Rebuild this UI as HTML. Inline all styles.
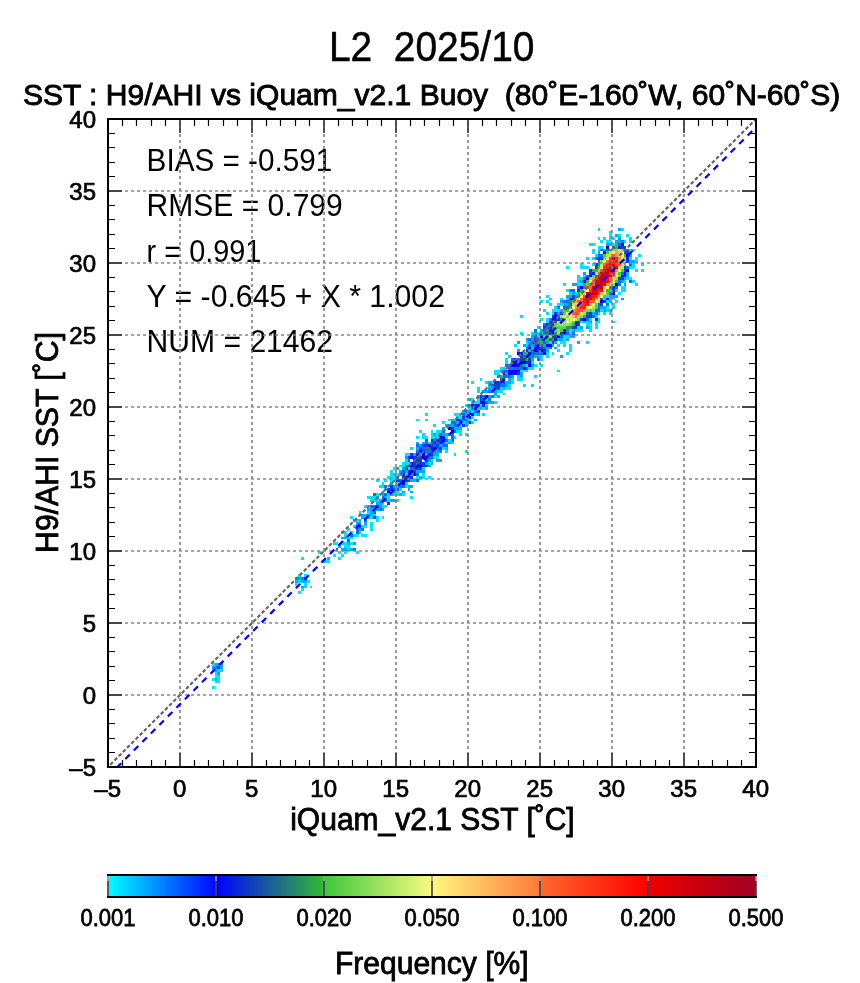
<!DOCTYPE html>
<html><head><meta charset="utf-8"><style>
html,body{margin:0;padding:0;background:#fff;}
svg{display:block;font-family:"Liberation Sans",sans-serif;will-change:transform;} text{white-space:pre;}
</style></head><body>
<svg xml:space="preserve" width="860" height="983" viewBox="0 0 860 983">
<g id="scatter"><g shape-rendering="crispEdges"><rect x="211.68" y="663.32" width="2.88" height="2.88" fill="#00e6ff"/><rect x="214.56" y="663.32" width="2.88" height="2.88" fill="#00a6ff"/><rect x="217.44" y="663.32" width="2.88" height="2.88" fill="#0099ff"/><rect x="220.32" y="663.32" width="2.88" height="2.88" fill="#00b2ff"/><rect x="211.68" y="666.20" width="2.88" height="2.88" fill="#0099ff"/><rect x="214.56" y="666.20" width="2.88" height="2.88" fill="#008cff"/><rect x="217.44" y="666.20" width="2.88" height="2.88" fill="#0040ff"/><rect x="220.32" y="666.20" width="2.88" height="2.88" fill="#00a6ff"/><rect x="211.68" y="669.08" width="2.88" height="2.88" fill="#00d9ff"/><rect x="214.56" y="669.08" width="2.88" height="2.88" fill="#00b2ff"/><rect x="217.44" y="669.08" width="2.88" height="2.88" fill="#00d9ff"/><rect x="220.32" y="669.08" width="2.88" height="2.88" fill="#00d9ff"/><rect x="214.56" y="671.96" width="2.88" height="2.88" fill="#00e6ff"/><rect x="217.44" y="671.96" width="2.88" height="2.88" fill="#0099ff"/><rect x="214.56" y="674.84" width="2.88" height="2.88" fill="#00e6ff"/><rect x="217.44" y="674.84" width="2.88" height="2.88" fill="#00e6ff"/><rect x="211.68" y="677.72" width="2.88" height="2.88" fill="#00e6ff"/><rect x="214.56" y="677.72" width="2.88" height="2.88" fill="#00b2ff"/><rect x="217.44" y="677.72" width="2.88" height="2.88" fill="#00e6ff"/><rect x="214.56" y="680.60" width="2.88" height="2.88" fill="#00e6ff"/><rect x="217.44" y="680.60" width="2.88" height="2.88" fill="#00e6ff"/><rect x="211.68" y="686.36" width="2.88" height="2.88" fill="#00e6ff"/><rect x="300.96" y="556.76" width="2.88" height="2.88" fill="#00e6ff"/><rect x="298.08" y="574.04" width="2.88" height="2.88" fill="#00e6ff"/><rect x="303.84" y="574.04" width="2.88" height="2.88" fill="#00e6ff"/><rect x="295.20" y="576.92" width="2.88" height="2.88" fill="#00a6ff"/><rect x="298.08" y="576.92" width="2.88" height="2.88" fill="#00a6ff"/><rect x="300.96" y="576.92" width="2.88" height="2.88" fill="#008cff"/><rect x="303.84" y="576.92" width="2.88" height="2.88" fill="#0040ff"/><rect x="295.20" y="579.80" width="2.88" height="2.88" fill="#00b2ff"/><rect x="298.08" y="579.80" width="2.88" height="2.88" fill="#00d9ff"/><rect x="300.96" y="579.80" width="2.88" height="2.88" fill="#00a6ff"/><rect x="303.84" y="579.80" width="2.88" height="2.88" fill="#00b2ff"/><rect x="306.72" y="579.80" width="2.88" height="2.88" fill="#00e6ff"/><rect x="295.20" y="582.68" width="2.88" height="2.88" fill="#00e6ff"/><rect x="303.84" y="582.68" width="2.88" height="2.88" fill="#00e6ff"/><rect x="300.96" y="585.56" width="2.88" height="2.88" fill="#00a6ff"/><rect x="303.84" y="585.56" width="2.88" height="2.88" fill="#00ccff"/><rect x="309.60" y="585.56" width="2.88" height="2.88" fill="#00e6ff"/><rect x="300.96" y="588.44" width="2.88" height="2.88" fill="#00e6ff"/><rect x="298.08" y="591.32" width="2.88" height="2.88" fill="#00e6ff"/><rect x="326.88" y="556.76" width="2.88" height="2.88" fill="#00b2ff"/><rect x="324.00" y="559.64" width="2.88" height="2.88" fill="#00e6ff"/><rect x="326.88" y="559.64" width="2.88" height="2.88" fill="#00e6ff"/><rect x="332.64" y="542.36" width="2.88" height="2.88" fill="#00e3ff"/><rect x="335.52" y="548.12" width="2.88" height="2.88" fill="#0071ff"/><rect x="332.64" y="553.88" width="2.88" height="2.88" fill="#00e3ff"/><rect x="338.40" y="556.76" width="2.88" height="2.88" fill="#00e3ff"/><rect x="318.24" y="551.00" width="2.88" height="2.88" fill="#00e3ff"/><rect x="335.52" y="542.36" width="2.88" height="2.88" fill="#00e3ff"/><rect x="341.28" y="553.88" width="2.88" height="2.88" fill="#00e3ff"/><rect x="347.04" y="548.12" width="2.88" height="2.88" fill="#00e3ff"/><rect x="344.16" y="542.36" width="2.88" height="2.88" fill="#00e3ff"/><rect x="338.40" y="551.00" width="2.88" height="2.88" fill="#00e3ff"/><rect x="341.28" y="548.12" width="2.88" height="2.88" fill="#00aaff"/><rect x="347.04" y="536.60" width="2.88" height="2.88" fill="#00e3ff"/><rect x="344.16" y="551.00" width="2.88" height="2.88" fill="#00e3ff"/><rect x="338.40" y="545.24" width="2.88" height="2.88" fill="#00aaff"/><rect x="344.16" y="548.12" width="2.88" height="2.88" fill="#00aaff"/><rect x="341.28" y="542.36" width="2.88" height="2.88" fill="#00e3ff"/><rect x="341.28" y="530.84" width="2.88" height="2.88" fill="#00e3ff"/><rect x="341.28" y="536.60" width="2.88" height="2.88" fill="#00aaff"/><rect x="347.04" y="539.48" width="2.88" height="2.88" fill="#0071ff"/><rect x="349.92" y="542.36" width="2.88" height="2.88" fill="#00e3ff"/><rect x="349.92" y="548.12" width="2.88" height="2.88" fill="#00aaff"/><rect x="344.16" y="536.60" width="2.88" height="2.88" fill="#00aaff"/><rect x="344.16" y="530.84" width="2.88" height="2.88" fill="#00e3ff"/><rect x="344.16" y="545.24" width="2.88" height="2.88" fill="#00e3ff"/><rect x="347.04" y="545.24" width="2.88" height="2.88" fill="#00e3ff"/><rect x="347.04" y="542.36" width="2.88" height="2.88" fill="#00aaff"/><rect x="349.92" y="530.84" width="2.88" height="2.88" fill="#00e3ff"/><rect x="349.92" y="533.72" width="2.88" height="2.88" fill="#0071ff"/><rect x="352.80" y="525.08" width="2.88" height="2.88" fill="#00e3ff"/><rect x="352.80" y="548.12" width="2.88" height="2.88" fill="#0071ff"/><rect x="344.16" y="533.72" width="2.88" height="2.88" fill="#00e3ff"/><rect x="352.80" y="542.36" width="2.88" height="2.88" fill="#00aaff"/><rect x="349.92" y="536.60" width="2.88" height="2.88" fill="#00e3ff"/><rect x="355.68" y="527.96" width="2.88" height="2.88" fill="#0071ff"/><rect x="347.04" y="527.96" width="2.88" height="2.88" fill="#00e3ff"/><rect x="355.68" y="530.84" width="2.88" height="2.88" fill="#0071ff"/><rect x="361.44" y="533.72" width="2.88" height="2.88" fill="#00e3ff"/><rect x="355.68" y="551.00" width="2.88" height="2.88" fill="#00e3ff"/><rect x="358.56" y="530.84" width="2.88" height="2.88" fill="#00e3ff"/><rect x="352.80" y="533.72" width="2.88" height="2.88" fill="#00e3ff"/><rect x="355.68" y="525.08" width="2.88" height="2.88" fill="#0071ff"/><rect x="355.68" y="533.72" width="2.88" height="2.88" fill="#00e3ff"/><rect x="352.80" y="519.32" width="2.88" height="2.88" fill="#00aaff"/><rect x="358.56" y="527.96" width="2.88" height="2.88" fill="#00aaff"/><rect x="358.56" y="525.08" width="2.88" height="2.88" fill="#0039ff"/><rect x="361.44" y="527.96" width="2.88" height="2.88" fill="#0071ff"/><rect x="361.44" y="516.44" width="2.88" height="2.88" fill="#00aaff"/><rect x="358.56" y="519.32" width="2.88" height="2.88" fill="#00aaff"/><rect x="364.32" y="533.72" width="2.88" height="2.88" fill="#00e3ff"/><rect x="361.44" y="513.56" width="2.88" height="2.88" fill="#00aaff"/><rect x="355.68" y="519.32" width="2.88" height="2.88" fill="#00e3ff"/><rect x="358.56" y="513.56" width="2.88" height="2.88" fill="#00aaff"/><rect x="364.32" y="519.32" width="2.88" height="2.88" fill="#0071ff"/><rect x="358.56" y="522.20" width="2.88" height="2.88" fill="#00aaff"/><rect x="358.56" y="510.68" width="2.88" height="2.88" fill="#00e3ff"/><rect x="355.68" y="522.20" width="2.88" height="2.88" fill="#00aaff"/><rect x="364.32" y="525.08" width="2.88" height="2.88" fill="#00e3ff"/><rect x="367.20" y="516.44" width="2.88" height="2.88" fill="#00aaff"/><rect x="370.08" y="516.44" width="2.88" height="2.88" fill="#00e3ff"/><rect x="364.32" y="522.20" width="2.88" height="2.88" fill="#00aaff"/><rect x="370.08" y="510.68" width="2.88" height="2.88" fill="#00aaff"/><rect x="349.92" y="516.44" width="2.88" height="2.88" fill="#00e3ff"/><rect x="364.32" y="516.44" width="2.88" height="2.88" fill="#00e3ff"/><rect x="370.08" y="525.08" width="2.88" height="2.88" fill="#00e3ff"/><rect x="364.32" y="513.56" width="2.88" height="2.88" fill="#00aaff"/><rect x="367.20" y="513.56" width="2.88" height="2.88" fill="#00aaff"/><rect x="370.08" y="522.20" width="2.88" height="2.88" fill="#00e3ff"/><rect x="375.84" y="499.16" width="2.88" height="2.88" fill="#00e3ff"/><rect x="372.96" y="513.56" width="2.88" height="2.88" fill="#00e3ff"/><rect x="370.08" y="527.96" width="2.88" height="2.88" fill="#00e3ff"/><rect x="361.44" y="525.08" width="2.88" height="2.88" fill="#00e3ff"/><rect x="370.08" y="513.56" width="2.88" height="2.88" fill="#00aaff"/><rect x="367.20" y="507.80" width="2.88" height="2.88" fill="#00aaff"/><rect x="372.96" y="510.68" width="2.88" height="2.88" fill="#0071ff"/><rect x="372.96" y="516.44" width="2.88" height="2.88" fill="#0039ff"/><rect x="367.20" y="510.68" width="2.88" height="2.88" fill="#00e3ff"/><rect x="370.08" y="504.92" width="2.88" height="2.88" fill="#0071ff"/><rect x="372.96" y="507.80" width="2.88" height="2.88" fill="#00e3ff"/><rect x="367.20" y="496.28" width="2.88" height="2.88" fill="#00e3ff"/><rect x="375.84" y="496.28" width="2.88" height="2.88" fill="#00aaff"/><rect x="372.96" y="504.92" width="2.88" height="2.88" fill="#0071ff"/><rect x="375.84" y="504.92" width="2.88" height="2.88" fill="#0039ff"/><rect x="375.84" y="519.32" width="2.88" height="2.88" fill="#00e3ff"/><rect x="378.72" y="507.80" width="2.88" height="2.88" fill="#0071ff"/><rect x="378.72" y="504.92" width="2.88" height="2.88" fill="#00aaff"/><rect x="372.96" y="499.16" width="2.88" height="2.88" fill="#00e3ff"/><rect x="364.32" y="504.92" width="2.88" height="2.88" fill="#00e3ff"/><rect x="372.96" y="493.40" width="2.88" height="2.88" fill="#0071ff"/><rect x="381.60" y="507.80" width="2.88" height="2.88" fill="#00aaff"/><rect x="372.96" y="496.28" width="2.88" height="2.88" fill="#00e3ff"/><rect x="375.84" y="502.04" width="2.88" height="2.88" fill="#00aaff"/><rect x="370.08" y="499.16" width="2.88" height="2.88" fill="#00e3ff"/><rect x="378.72" y="502.04" width="2.88" height="2.88" fill="#00aaff"/><rect x="378.72" y="499.16" width="2.88" height="2.88" fill="#00aaff"/><rect x="370.08" y="507.80" width="2.88" height="2.88" fill="#00aaff"/><rect x="375.84" y="507.80" width="2.88" height="2.88" fill="#00aaff"/><rect x="375.84" y="516.44" width="2.88" height="2.88" fill="#00e3ff"/><rect x="381.60" y="504.92" width="2.88" height="2.88" fill="#00e3ff"/><rect x="375.84" y="479.00" width="2.88" height="2.88" fill="#00e3ff"/><rect x="370.08" y="496.28" width="2.88" height="2.88" fill="#00e3ff"/><rect x="381.60" y="493.40" width="2.88" height="2.88" fill="#00aaff"/><rect x="381.60" y="516.44" width="2.88" height="2.88" fill="#00e3ff"/><rect x="384.48" y="493.40" width="2.88" height="2.88" fill="#0071ff"/><rect x="381.60" y="499.16" width="2.88" height="2.88" fill="#00aaff"/><rect x="384.48" y="496.28" width="2.88" height="2.88" fill="#00aaff"/><rect x="393.12" y="499.16" width="2.88" height="2.88" fill="#00aaff"/><rect x="381.60" y="496.28" width="2.88" height="2.88" fill="#0071ff"/><rect x="381.60" y="490.52" width="2.88" height="2.88" fill="#00aaff"/><rect x="387.36" y="502.04" width="2.88" height="2.88" fill="#0039ff"/><rect x="387.36" y="487.64" width="2.88" height="2.88" fill="#0039ff"/><rect x="384.48" y="504.92" width="2.88" height="2.88" fill="#00e3ff"/><rect x="387.36" y="490.52" width="2.88" height="2.88" fill="#0000ff"/><rect x="384.48" y="499.16" width="2.88" height="2.88" fill="#0071ff"/><rect x="375.84" y="493.40" width="2.88" height="2.88" fill="#00e3ff"/><rect x="381.60" y="502.04" width="2.88" height="2.88" fill="#00e3ff"/><rect x="381.60" y="481.88" width="2.88" height="2.88" fill="#00e3ff"/><rect x="384.48" y="487.64" width="2.88" height="2.88" fill="#00e3ff"/><rect x="387.36" y="499.16" width="2.88" height="2.88" fill="#00e3ff"/><rect x="393.12" y="490.52" width="2.88" height="2.88" fill="#00aaff"/><rect x="381.60" y="484.76" width="2.88" height="2.88" fill="#00e3ff"/><rect x="384.48" y="484.76" width="2.88" height="2.88" fill="#0071ff"/><rect x="396.00" y="499.16" width="2.88" height="2.88" fill="#00e3ff"/><rect x="390.24" y="499.16" width="2.88" height="2.88" fill="#00aaff"/><rect x="401.76" y="479.00" width="2.88" height="2.88" fill="#0000ff"/><rect x="390.24" y="484.76" width="2.88" height="2.88" fill="#0039ff"/><rect x="378.72" y="484.76" width="2.88" height="2.88" fill="#00e3ff"/><rect x="390.24" y="487.64" width="2.88" height="2.88" fill="#0039ff"/><rect x="393.12" y="493.40" width="2.88" height="2.88" fill="#00e3ff"/><rect x="390.24" y="481.88" width="2.88" height="2.88" fill="#00aaff"/><rect x="410.40" y="496.28" width="2.88" height="2.88" fill="#00e3ff"/><rect x="387.36" y="493.40" width="2.88" height="2.88" fill="#00e3ff"/><rect x="390.24" y="493.40" width="2.88" height="2.88" fill="#00aaff"/><rect x="393.12" y="484.76" width="2.88" height="2.88" fill="#00aaff"/><rect x="390.24" y="490.52" width="2.88" height="2.88" fill="#00aaff"/><rect x="384.48" y="479.00" width="2.88" height="2.88" fill="#00e3ff"/><rect x="393.12" y="487.64" width="2.88" height="2.88" fill="#0071ff"/><rect x="396.00" y="493.40" width="2.88" height="2.88" fill="#00e3ff"/><rect x="387.36" y="496.28" width="2.88" height="2.88" fill="#00e3ff"/><rect x="396.00" y="481.88" width="2.88" height="2.88" fill="#00e3ff"/><rect x="393.12" y="476.12" width="2.88" height="2.88" fill="#00e3ff"/><rect x="390.24" y="470.36" width="2.88" height="2.88" fill="#00e3ff"/><rect x="398.88" y="481.88" width="2.88" height="2.88" fill="#0071ff"/><rect x="398.88" y="479.00" width="2.88" height="2.88" fill="#0071ff"/><rect x="396.00" y="473.24" width="2.88" height="2.88" fill="#00e3ff"/><rect x="390.24" y="476.12" width="2.88" height="2.88" fill="#00e3ff"/><rect x="398.88" y="484.76" width="2.88" height="2.88" fill="#0071ff"/><rect x="398.88" y="487.64" width="2.88" height="2.88" fill="#00e3ff"/><rect x="401.76" y="476.12" width="2.88" height="2.88" fill="#144bad"/><rect x="396.00" y="479.00" width="2.88" height="2.88" fill="#0039ff"/><rect x="390.24" y="473.24" width="2.88" height="2.88" fill="#00e3ff"/><rect x="398.88" y="493.40" width="2.88" height="2.88" fill="#00aaff"/><rect x="404.64" y="484.76" width="2.88" height="2.88" fill="#00e3ff"/><rect x="401.76" y="493.40" width="2.88" height="2.88" fill="#00e3ff"/><rect x="396.00" y="490.52" width="2.88" height="2.88" fill="#00e3ff"/><rect x="393.12" y="479.00" width="2.88" height="2.88" fill="#00e3ff"/><rect x="390.24" y="479.00" width="2.88" height="2.88" fill="#00e3ff"/><rect x="401.76" y="490.52" width="2.88" height="2.88" fill="#00aaff"/><rect x="387.36" y="476.12" width="2.88" height="2.88" fill="#00e3ff"/><rect x="407.52" y="473.24" width="2.88" height="2.88" fill="#0000ff"/><rect x="393.12" y="473.24" width="2.88" height="2.88" fill="#00aaff"/><rect x="396.00" y="487.64" width="2.88" height="2.88" fill="#0071ff"/><rect x="396.00" y="484.76" width="2.88" height="2.88" fill="#00aaff"/><rect x="404.64" y="476.12" width="2.88" height="2.88" fill="#0a25d6"/><rect x="396.00" y="467.48" width="2.88" height="2.88" fill="#00aaff"/><rect x="393.12" y="467.48" width="2.88" height="2.88" fill="#00e3ff"/><rect x="398.88" y="473.24" width="2.88" height="2.88" fill="#00aaff"/><rect x="401.76" y="461.72" width="2.88" height="2.88" fill="#00e3ff"/><rect x="404.64" y="479.00" width="2.88" height="2.88" fill="#0039ff"/><rect x="401.76" y="473.24" width="2.88" height="2.88" fill="#0039ff"/><rect x="401.76" y="481.88" width="2.88" height="2.88" fill="#0000ff"/><rect x="410.40" y="484.76" width="2.88" height="2.88" fill="#00aaff"/><rect x="407.52" y="484.76" width="2.88" height="2.88" fill="#00aaff"/><rect x="396.00" y="476.12" width="2.88" height="2.88" fill="#00aaff"/><rect x="407.52" y="479.00" width="2.88" height="2.88" fill="#144bad"/><rect x="407.52" y="464.60" width="2.88" height="2.88" fill="#144bad"/><rect x="404.64" y="461.72" width="2.88" height="2.88" fill="#00e3ff"/><rect x="401.76" y="484.76" width="2.88" height="2.88" fill="#0071ff"/><rect x="401.76" y="467.48" width="2.88" height="2.88" fill="#00aaff"/><rect x="398.88" y="470.36" width="2.88" height="2.88" fill="#00aaff"/><rect x="410.40" y="464.60" width="2.88" height="2.88" fill="#0000ff"/><rect x="401.76" y="470.36" width="2.88" height="2.88" fill="#0071ff"/><rect x="410.40" y="490.52" width="2.88" height="2.88" fill="#00aaff"/><rect x="404.64" y="467.48" width="2.88" height="2.88" fill="#0000ff"/><rect x="404.64" y="455.96" width="2.88" height="2.88" fill="#00aaff"/><rect x="398.88" y="464.60" width="2.88" height="2.88" fill="#00e3ff"/><rect x="410.40" y="447.32" width="2.88" height="2.88" fill="#00e3ff"/><rect x="410.40" y="476.12" width="2.88" height="2.88" fill="#0039ff"/><rect x="404.64" y="464.60" width="2.88" height="2.88" fill="#0071ff"/><rect x="407.52" y="470.36" width="2.88" height="2.88" fill="#0a25d6"/><rect x="413.28" y="467.48" width="2.88" height="2.88" fill="#1f7085"/><rect x="407.52" y="487.64" width="2.88" height="2.88" fill="#00aaff"/><rect x="407.52" y="476.12" width="2.88" height="2.88" fill="#0039ff"/><rect x="410.40" y="470.36" width="2.88" height="2.88" fill="#0000ff"/><rect x="410.40" y="479.00" width="2.88" height="2.88" fill="#00aaff"/><rect x="407.52" y="458.84" width="2.88" height="2.88" fill="#1f7085"/><rect x="416.16" y="455.96" width="2.88" height="2.88" fill="#144bad"/><rect x="413.28" y="473.24" width="2.88" height="2.88" fill="#0000ff"/><rect x="416.16" y="461.72" width="2.88" height="2.88" fill="#1f7085"/><rect x="413.28" y="470.36" width="2.88" height="2.88" fill="#144bad"/><rect x="416.16" y="476.12" width="2.88" height="2.88" fill="#00e3ff"/><rect x="404.64" y="473.24" width="2.88" height="2.88" fill="#00e3ff"/><rect x="404.64" y="470.36" width="2.88" height="2.88" fill="#00aaff"/><rect x="401.76" y="464.60" width="2.88" height="2.88" fill="#00e3ff"/><rect x="410.40" y="455.96" width="2.88" height="2.88" fill="#0000ff"/><rect x="410.40" y="461.72" width="2.88" height="2.88" fill="#0000ff"/><rect x="407.52" y="455.96" width="2.88" height="2.88" fill="#0039ff"/><rect x="410.40" y="467.48" width="2.88" height="2.88" fill="#1f7085"/><rect x="404.64" y="458.84" width="2.88" height="2.88" fill="#00e3ff"/><rect x="416.16" y="473.24" width="2.88" height="2.88" fill="#0071ff"/><rect x="416.16" y="467.48" width="2.88" height="2.88" fill="#144bad"/><rect x="404.64" y="481.88" width="2.88" height="2.88" fill="#00e3ff"/><rect x="407.52" y="467.48" width="2.88" height="2.88" fill="#00e3ff"/><rect x="416.16" y="479.00" width="2.88" height="2.88" fill="#0071ff"/><rect x="407.52" y="453.08" width="2.88" height="2.88" fill="#00e3ff"/><rect x="416.16" y="458.84" width="2.88" height="2.88" fill="#0039ff"/><rect x="413.28" y="479.00" width="2.88" height="2.88" fill="#00aaff"/><rect x="407.52" y="461.72" width="2.88" height="2.88" fill="#00e3ff"/><rect x="410.40" y="453.08" width="2.88" height="2.88" fill="#0039ff"/><rect x="416.16" y="470.36" width="2.88" height="2.88" fill="#00aaff"/><rect x="413.28" y="461.72" width="2.88" height="2.88" fill="#0039ff"/><rect x="413.28" y="458.84" width="2.88" height="2.88" fill="#0a25d6"/><rect x="410.40" y="473.24" width="2.88" height="2.88" fill="#00aaff"/><rect x="419.04" y="430.04" width="2.88" height="2.88" fill="#00e3ff"/><rect x="419.04" y="464.60" width="2.88" height="2.88" fill="#0000ff"/><rect x="404.64" y="453.08" width="2.88" height="2.88" fill="#00e3ff"/><rect x="421.92" y="450.20" width="2.88" height="2.88" fill="#0a25d6"/><rect x="416.16" y="418.52" width="2.88" height="2.88" fill="#00e3ff"/><rect x="416.16" y="464.60" width="2.88" height="2.88" fill="#0a25d6"/><rect x="413.28" y="455.96" width="2.88" height="2.88" fill="#0039ff"/><rect x="416.16" y="453.08" width="2.88" height="2.88" fill="#0a25d6"/><rect x="419.04" y="470.36" width="2.88" height="2.88" fill="#00aaff"/><rect x="413.28" y="453.08" width="2.88" height="2.88" fill="#00aaff"/><rect x="413.28" y="464.60" width="2.88" height="2.88" fill="#0039ff"/><rect x="424.80" y="447.32" width="2.88" height="2.88" fill="#1f7085"/><rect x="421.92" y="467.48" width="2.88" height="2.88" fill="#00e3ff"/><rect x="419.04" y="461.72" width="2.88" height="2.88" fill="#0039ff"/><rect x="419.04" y="455.96" width="2.88" height="2.88" fill="#144bad"/><rect x="416.16" y="444.44" width="2.88" height="2.88" fill="#0071ff"/><rect x="421.92" y="470.36" width="2.88" height="2.88" fill="#00aaff"/><rect x="424.80" y="453.08" width="2.88" height="2.88" fill="#33bb33"/><rect x="419.04" y="467.48" width="2.88" height="2.88" fill="#0039ff"/><rect x="421.92" y="455.96" width="2.88" height="2.88" fill="#0000ff"/><rect x="421.92" y="453.08" width="2.88" height="2.88" fill="#0000ff"/><rect x="421.92" y="441.56" width="2.88" height="2.88" fill="#00aaff"/><rect x="419.04" y="476.12" width="2.88" height="2.88" fill="#00aaff"/><rect x="419.04" y="458.84" width="2.88" height="2.88" fill="#0039ff"/><rect x="421.92" y="464.60" width="2.88" height="2.88" fill="#0039ff"/><rect x="416.16" y="435.80" width="2.88" height="2.88" fill="#00e3ff"/><rect x="421.92" y="444.44" width="2.88" height="2.88" fill="#0039ff"/><rect x="421.92" y="476.12" width="2.88" height="2.88" fill="#00e3ff"/><rect x="421.92" y="461.72" width="2.88" height="2.88" fill="#0039ff"/><rect x="419.04" y="453.08" width="2.88" height="2.88" fill="#00aaff"/><rect x="416.16" y="450.20" width="2.88" height="2.88" fill="#0071ff"/><rect x="419.04" y="447.32" width="2.88" height="2.88" fill="#0039ff"/><rect x="416.16" y="447.32" width="2.88" height="2.88" fill="#00aaff"/><rect x="419.04" y="444.44" width="2.88" height="2.88" fill="#00aaff"/><rect x="424.80" y="450.20" width="2.88" height="2.88" fill="#0071ff"/><rect x="424.80" y="444.44" width="2.88" height="2.88" fill="#0039ff"/><rect x="424.80" y="464.60" width="2.88" height="2.88" fill="#0039ff"/><rect x="424.80" y="455.96" width="2.88" height="2.88" fill="#144bad"/><rect x="419.04" y="450.20" width="2.88" height="2.88" fill="#0000ff"/><rect x="424.80" y="458.84" width="2.88" height="2.88" fill="#0039ff"/><rect x="424.80" y="461.72" width="2.88" height="2.88" fill="#00aaff"/><rect x="421.92" y="435.80" width="2.88" height="2.88" fill="#00e3ff"/><rect x="421.92" y="473.24" width="2.88" height="2.88" fill="#00e3ff"/><rect x="421.92" y="432.92" width="2.88" height="2.88" fill="#00e3ff"/><rect x="416.16" y="441.56" width="2.88" height="2.88" fill="#00aaff"/><rect x="427.68" y="464.60" width="2.88" height="2.88" fill="#00aaff"/><rect x="427.68" y="455.96" width="2.88" height="2.88" fill="#0071ff"/><rect x="427.68" y="453.08" width="2.88" height="2.88" fill="#0a25d6"/><rect x="421.92" y="447.32" width="2.88" height="2.88" fill="#0071ff"/><rect x="427.68" y="476.12" width="2.88" height="2.88" fill="#00e3ff"/><rect x="424.80" y="418.52" width="2.88" height="2.88" fill="#00e3ff"/><rect x="424.80" y="438.68" width="2.88" height="2.88" fill="#0071ff"/><rect x="430.56" y="450.20" width="2.88" height="2.88" fill="#144bad"/><rect x="430.56" y="444.44" width="2.88" height="2.88" fill="#0039ff"/><rect x="427.68" y="447.32" width="2.88" height="2.88" fill="#1f7085"/><rect x="424.80" y="435.80" width="2.88" height="2.88" fill="#00e3ff"/><rect x="439.20" y="444.44" width="2.88" height="2.88" fill="#00aaff"/><rect x="427.68" y="444.44" width="2.88" height="2.88" fill="#0000ff"/><rect x="430.56" y="455.96" width="2.88" height="2.88" fill="#0071ff"/><rect x="430.56" y="438.68" width="2.88" height="2.88" fill="#0039ff"/><rect x="430.56" y="453.08" width="2.88" height="2.88" fill="#0039ff"/><rect x="424.80" y="412.76" width="2.88" height="2.88" fill="#00e3ff"/><rect x="430.56" y="447.32" width="2.88" height="2.88" fill="#0a25d6"/><rect x="427.68" y="450.20" width="2.88" height="2.88" fill="#0071ff"/><rect x="433.44" y="438.68" width="2.88" height="2.88" fill="#0071ff"/><rect x="427.68" y="458.84" width="2.88" height="2.88" fill="#00aaff"/><rect x="424.80" y="441.56" width="2.88" height="2.88" fill="#0071ff"/><rect x="433.44" y="450.20" width="2.88" height="2.88" fill="#29965c"/><rect x="433.44" y="455.96" width="2.88" height="2.88" fill="#00e3ff"/><rect x="442.08" y="444.44" width="2.88" height="2.88" fill="#0071ff"/><rect x="430.56" y="432.92" width="2.88" height="2.88" fill="#00e3ff"/><rect x="436.32" y="458.84" width="2.88" height="2.88" fill="#00aaff"/><rect x="427.68" y="441.56" width="2.88" height="2.88" fill="#00e3ff"/><rect x="430.56" y="461.72" width="2.88" height="2.88" fill="#00aaff"/><rect x="436.32" y="435.80" width="2.88" height="2.88" fill="#00e3ff"/><rect x="436.32" y="455.96" width="2.88" height="2.88" fill="#00e3ff"/><rect x="430.56" y="435.80" width="2.88" height="2.88" fill="#00e3ff"/><rect x="430.56" y="458.84" width="2.88" height="2.88" fill="#00e3ff"/><rect x="436.32" y="450.20" width="2.88" height="2.88" fill="#00aaff"/><rect x="439.20" y="458.84" width="2.88" height="2.88" fill="#00aaff"/><rect x="430.56" y="441.56" width="2.88" height="2.88" fill="#0071ff"/><rect x="433.44" y="441.56" width="2.88" height="2.88" fill="#0039ff"/><rect x="427.68" y="461.72" width="2.88" height="2.88" fill="#00e3ff"/><rect x="433.44" y="444.44" width="2.88" height="2.88" fill="#0071ff"/><rect x="436.32" y="453.08" width="2.88" height="2.88" fill="#00aaff"/><rect x="433.44" y="447.32" width="2.88" height="2.88" fill="#0000ff"/><rect x="436.32" y="441.56" width="2.88" height="2.88" fill="#0071ff"/><rect x="436.32" y="430.04" width="2.88" height="2.88" fill="#00e3ff"/><rect x="436.32" y="447.32" width="2.88" height="2.88" fill="#0071ff"/><rect x="436.32" y="444.44" width="2.88" height="2.88" fill="#0039ff"/><rect x="433.44" y="424.28" width="2.88" height="2.88" fill="#00e3ff"/><rect x="433.44" y="453.08" width="2.88" height="2.88" fill="#00aaff"/><rect x="442.08" y="438.68" width="2.88" height="2.88" fill="#0039ff"/><rect x="439.20" y="441.56" width="2.88" height="2.88" fill="#144bad"/><rect x="430.56" y="430.04" width="2.88" height="2.88" fill="#00e3ff"/><rect x="439.20" y="432.92" width="2.88" height="2.88" fill="#1f7085"/><rect x="439.20" y="447.32" width="2.88" height="2.88" fill="#0039ff"/><rect x="439.20" y="438.68" width="2.88" height="2.88" fill="#0039ff"/><rect x="433.44" y="432.92" width="2.88" height="2.88" fill="#00aaff"/><rect x="436.32" y="438.68" width="2.88" height="2.88" fill="#0039ff"/><rect x="433.44" y="435.80" width="2.88" height="2.88" fill="#00e3ff"/><rect x="444.96" y="444.44" width="2.88" height="2.88" fill="#0071ff"/><rect x="442.08" y="430.04" width="2.88" height="2.88" fill="#0071ff"/><rect x="439.20" y="450.20" width="2.88" height="2.88" fill="#0071ff"/><rect x="444.96" y="441.56" width="2.88" height="2.88" fill="#00e3ff"/><rect x="447.84" y="432.92" width="2.88" height="2.88" fill="#0071ff"/><rect x="439.20" y="435.80" width="2.88" height="2.88" fill="#0000ff"/><rect x="442.08" y="435.80" width="2.88" height="2.88" fill="#0a25d6"/><rect x="436.32" y="432.92" width="2.88" height="2.88" fill="#00e3ff"/><rect x="442.08" y="441.56" width="2.88" height="2.88" fill="#0071ff"/><rect x="444.96" y="447.32" width="2.88" height="2.88" fill="#00aaff"/><rect x="439.20" y="430.04" width="2.88" height="2.88" fill="#00e3ff"/><rect x="444.96" y="435.80" width="2.88" height="2.88" fill="#00e3ff"/><rect x="450.72" y="430.04" width="2.88" height="2.88" fill="#0000ff"/><rect x="442.08" y="447.32" width="2.88" height="2.88" fill="#00e3ff"/><rect x="442.08" y="427.16" width="2.88" height="2.88" fill="#00aaff"/><rect x="450.72" y="432.92" width="2.88" height="2.88" fill="#0071ff"/><rect x="442.08" y="432.92" width="2.88" height="2.88" fill="#00aaff"/><rect x="447.84" y="438.68" width="2.88" height="2.88" fill="#00e3ff"/><rect x="453.60" y="453.08" width="2.88" height="2.88" fill="#00e3ff"/><rect x="465.12" y="450.20" width="2.88" height="2.88" fill="#00e3ff"/><rect x="447.84" y="441.56" width="2.88" height="2.88" fill="#00aaff"/><rect x="444.96" y="438.68" width="2.88" height="2.88" fill="#0071ff"/><rect x="450.72" y="438.68" width="2.88" height="2.88" fill="#0071ff"/><rect x="444.96" y="424.28" width="2.88" height="2.88" fill="#00aaff"/><rect x="447.84" y="427.16" width="2.88" height="2.88" fill="#0000ff"/><rect x="442.08" y="421.40" width="2.88" height="2.88" fill="#00e3ff"/><rect x="450.72" y="435.80" width="2.88" height="2.88" fill="#0071ff"/><rect x="444.96" y="432.92" width="2.88" height="2.88" fill="#00aaff"/><rect x="450.72" y="427.16" width="2.88" height="2.88" fill="#144bad"/><rect x="444.96" y="450.20" width="2.88" height="2.88" fill="#00e3ff"/><rect x="450.72" y="441.56" width="2.88" height="2.88" fill="#00e3ff"/><rect x="456.48" y="430.04" width="2.88" height="2.88" fill="#00e3ff"/><rect x="453.60" y="435.80" width="2.88" height="2.88" fill="#00e3ff"/><rect x="453.60" y="430.04" width="2.88" height="2.88" fill="#0071ff"/><rect x="453.60" y="427.16" width="2.88" height="2.88" fill="#00aaff"/><rect x="456.48" y="424.28" width="2.88" height="2.88" fill="#0071ff"/><rect x="447.84" y="424.28" width="2.88" height="2.88" fill="#00aaff"/><rect x="450.72" y="421.40" width="2.88" height="2.88" fill="#0071ff"/><rect x="459.36" y="430.04" width="2.88" height="2.88" fill="#00e3ff"/><rect x="459.36" y="427.16" width="2.88" height="2.88" fill="#00aaff"/><rect x="453.60" y="424.28" width="2.88" height="2.88" fill="#0071ff"/><rect x="453.60" y="421.40" width="2.88" height="2.88" fill="#0071ff"/><rect x="450.72" y="418.52" width="2.88" height="2.88" fill="#00aaff"/><rect x="450.72" y="424.28" width="2.88" height="2.88" fill="#00aaff"/><rect x="462.24" y="424.28" width="2.88" height="2.88" fill="#0039ff"/><rect x="459.36" y="418.52" width="2.88" height="2.88" fill="#0071ff"/><rect x="447.84" y="418.52" width="2.88" height="2.88" fill="#00e3ff"/><rect x="465.12" y="432.92" width="2.88" height="2.88" fill="#00e3ff"/><rect x="453.60" y="418.52" width="2.88" height="2.88" fill="#00e3ff"/><rect x="459.36" y="421.40" width="2.88" height="2.88" fill="#0000ff"/><rect x="456.48" y="421.40" width="2.88" height="2.88" fill="#00aaff"/><rect x="462.24" y="415.64" width="2.88" height="2.88" fill="#0039ff"/><rect x="453.60" y="412.76" width="2.88" height="2.88" fill="#00e3ff"/><rect x="459.36" y="415.64" width="2.88" height="2.88" fill="#00e3ff"/><rect x="456.48" y="427.16" width="2.88" height="2.88" fill="#00aaff"/><rect x="459.36" y="432.92" width="2.88" height="2.88" fill="#00e3ff"/><rect x="465.12" y="424.28" width="2.88" height="2.88" fill="#00aaff"/><rect x="456.48" y="418.52" width="2.88" height="2.88" fill="#0039ff"/><rect x="462.24" y="421.40" width="2.88" height="2.88" fill="#00e3ff"/><rect x="459.36" y="424.28" width="2.88" height="2.88" fill="#00e3ff"/><rect x="462.24" y="418.52" width="2.88" height="2.88" fill="#0071ff"/><rect x="468.00" y="418.52" width="2.88" height="2.88" fill="#00e3ff"/><rect x="465.12" y="418.52" width="2.88" height="2.88" fill="#0071ff"/><rect x="462.24" y="412.76" width="2.88" height="2.88" fill="#0071ff"/><rect x="456.48" y="415.64" width="2.88" height="2.88" fill="#00e3ff"/><rect x="468.00" y="421.40" width="2.88" height="2.88" fill="#0039ff"/><rect x="465.12" y="421.40" width="2.88" height="2.88" fill="#00aaff"/><rect x="468.00" y="409.88" width="2.88" height="2.88" fill="#00aaff"/><rect x="470.88" y="412.76" width="2.88" height="2.88" fill="#0000ff"/><rect x="470.88" y="421.40" width="2.88" height="2.88" fill="#00e3ff"/><rect x="465.12" y="412.76" width="2.88" height="2.88" fill="#00aaff"/><rect x="468.00" y="415.64" width="2.88" height="2.88" fill="#0a25d6"/><rect x="473.76" y="418.52" width="2.88" height="2.88" fill="#00aaff"/><rect x="462.24" y="409.88" width="2.88" height="2.88" fill="#00aaff"/><rect x="473.76" y="407.00" width="2.88" height="2.88" fill="#0039ff"/><rect x="465.12" y="409.88" width="2.88" height="2.88" fill="#0071ff"/><rect x="470.88" y="404.12" width="2.88" height="2.88" fill="#0a25d6"/><rect x="468.00" y="412.76" width="2.88" height="2.88" fill="#00e3ff"/><rect x="468.00" y="398.36" width="2.88" height="2.88" fill="#00aaff"/><rect x="456.48" y="412.76" width="2.88" height="2.88" fill="#00e3ff"/><rect x="465.12" y="404.12" width="2.88" height="2.88" fill="#00e3ff"/><rect x="470.88" y="409.88" width="2.88" height="2.88" fill="#00e3ff"/><rect x="473.76" y="404.12" width="2.88" height="2.88" fill="#0039ff"/><rect x="476.64" y="404.12" width="2.88" height="2.88" fill="#0071ff"/><rect x="470.88" y="407.00" width="2.88" height="2.88" fill="#0071ff"/><rect x="468.00" y="407.00" width="2.88" height="2.88" fill="#00e3ff"/><rect x="476.64" y="407.00" width="2.88" height="2.88" fill="#00e3ff"/><rect x="470.88" y="415.64" width="2.88" height="2.88" fill="#00e3ff"/><rect x="468.00" y="404.12" width="2.88" height="2.88" fill="#00e3ff"/><rect x="476.64" y="409.88" width="2.88" height="2.88" fill="#0039ff"/><rect x="465.12" y="415.64" width="2.88" height="2.88" fill="#00e3ff"/><rect x="470.88" y="401.24" width="2.88" height="2.88" fill="#00e3ff"/><rect x="479.52" y="407.00" width="2.88" height="2.88" fill="#00aaff"/><rect x="473.76" y="409.88" width="2.88" height="2.88" fill="#0071ff"/><rect x="473.76" y="412.76" width="2.88" height="2.88" fill="#00e3ff"/><rect x="476.64" y="412.76" width="2.88" height="2.88" fill="#00aaff"/><rect x="482.40" y="401.24" width="2.88" height="2.88" fill="#0000ff"/><rect x="479.52" y="404.12" width="2.88" height="2.88" fill="#00e3ff"/><rect x="476.64" y="395.48" width="2.88" height="2.88" fill="#00aaff"/><rect x="479.52" y="401.24" width="2.88" height="2.88" fill="#0000ff"/><rect x="488.16" y="389.72" width="2.88" height="2.88" fill="#0071ff"/><rect x="473.76" y="401.24" width="2.88" height="2.88" fill="#00e3ff"/><rect x="479.52" y="398.36" width="2.88" height="2.88" fill="#0039ff"/><rect x="470.88" y="398.36" width="2.88" height="2.88" fill="#00e3ff"/><rect x="482.40" y="404.12" width="2.88" height="2.88" fill="#0039ff"/><rect x="488.16" y="398.36" width="2.88" height="2.88" fill="#0071ff"/><rect x="476.64" y="398.36" width="2.88" height="2.88" fill="#00e3ff"/><rect x="482.40" y="407.00" width="2.88" height="2.88" fill="#00e3ff"/><rect x="485.28" y="404.12" width="2.88" height="2.88" fill="#00e3ff"/><rect x="482.40" y="389.72" width="2.88" height="2.88" fill="#00aaff"/><rect x="479.52" y="395.48" width="2.88" height="2.88" fill="#0039ff"/><rect x="485.28" y="395.48" width="2.88" height="2.88" fill="#0a25d6"/><rect x="476.64" y="401.24" width="2.88" height="2.88" fill="#00e3ff"/><rect x="488.16" y="401.24" width="2.88" height="2.88" fill="#00aaff"/><rect x="485.28" y="401.24" width="2.88" height="2.88" fill="#0071ff"/><rect x="482.40" y="398.36" width="2.88" height="2.88" fill="#0071ff"/><rect x="485.28" y="398.36" width="2.88" height="2.88" fill="#00e3ff"/><rect x="482.40" y="395.48" width="2.88" height="2.88" fill="#0071ff"/><rect x="482.40" y="412.76" width="2.88" height="2.88" fill="#00e3ff"/><rect x="485.28" y="407.00" width="2.88" height="2.88" fill="#00aaff"/><rect x="491.04" y="401.24" width="2.88" height="2.88" fill="#00aaff"/><rect x="488.16" y="395.48" width="2.88" height="2.88" fill="#00aaff"/><rect x="479.52" y="378.20" width="2.88" height="2.88" fill="#00e3ff"/><rect x="491.04" y="395.48" width="2.88" height="2.88" fill="#0071ff"/><rect x="493.92" y="389.72" width="2.88" height="2.88" fill="#00aaff"/><rect x="476.64" y="389.72" width="2.88" height="2.88" fill="#00e3ff"/><rect x="476.64" y="386.84" width="2.88" height="2.88" fill="#00e3ff"/><rect x="470.88" y="381.08" width="2.88" height="2.88" fill="#00e3ff"/><rect x="493.92" y="395.48" width="2.88" height="2.88" fill="#00e3ff"/><rect x="493.92" y="401.24" width="2.88" height="2.88" fill="#00e3ff"/><rect x="485.28" y="389.72" width="2.88" height="2.88" fill="#00aaff"/><rect x="485.28" y="381.08" width="2.88" height="2.88" fill="#00e3ff"/><rect x="491.04" y="386.84" width="2.88" height="2.88" fill="#00aaff"/><rect x="488.16" y="386.84" width="2.88" height="2.88" fill="#00aaff"/><rect x="493.92" y="386.84" width="2.88" height="2.88" fill="#00aaff"/><rect x="496.80" y="395.48" width="2.88" height="2.88" fill="#00aaff"/><rect x="491.04" y="381.08" width="2.88" height="2.88" fill="#00e3ff"/><rect x="491.04" y="389.72" width="2.88" height="2.88" fill="#0071ff"/><rect x="493.92" y="381.08" width="2.88" height="2.88" fill="#0a25d6"/><rect x="499.68" y="389.72" width="2.88" height="2.88" fill="#00e3ff"/><rect x="493.92" y="383.96" width="2.88" height="2.88" fill="#144bad"/><rect x="493.92" y="392.60" width="2.88" height="2.88" fill="#00aaff"/><rect x="488.16" y="381.08" width="2.88" height="2.88" fill="#00aaff"/><rect x="496.80" y="386.84" width="2.88" height="2.88" fill="#144bad"/><rect x="496.80" y="383.96" width="2.88" height="2.88" fill="#0039ff"/><rect x="496.80" y="389.72" width="2.88" height="2.88" fill="#00e3ff"/><rect x="491.04" y="383.96" width="2.88" height="2.88" fill="#0071ff"/><rect x="488.16" y="383.96" width="2.88" height="2.88" fill="#00e3ff"/><rect x="499.68" y="383.96" width="2.88" height="2.88" fill="#0071ff"/><rect x="496.80" y="381.08" width="2.88" height="2.88" fill="#0039ff"/><rect x="499.68" y="378.20" width="2.88" height="2.88" fill="#1f7085"/><rect x="502.56" y="386.84" width="2.88" height="2.88" fill="#00aaff"/><rect x="505.44" y="381.08" width="2.88" height="2.88" fill="#00aaff"/><rect x="502.56" y="381.08" width="2.88" height="2.88" fill="#144bad"/><rect x="502.56" y="383.96" width="2.88" height="2.88" fill="#0071ff"/><rect x="499.68" y="386.84" width="2.88" height="2.88" fill="#00e3ff"/><rect x="508.32" y="386.84" width="2.88" height="2.88" fill="#00e3ff"/><rect x="496.80" y="369.56" width="2.88" height="2.88" fill="#00e3ff"/><rect x="502.56" y="375.32" width="2.88" height="2.88" fill="#1f7085"/><rect x="508.32" y="372.44" width="2.88" height="2.88" fill="#0a25d6"/><rect x="499.68" y="381.08" width="2.88" height="2.88" fill="#00aaff"/><rect x="493.92" y="369.56" width="2.88" height="2.88" fill="#00e3ff"/><rect x="499.68" y="375.32" width="2.88" height="2.88" fill="#00aaff"/><rect x="499.68" y="366.68" width="2.88" height="2.88" fill="#00e3ff"/><rect x="505.44" y="383.96" width="2.88" height="2.88" fill="#00aaff"/><rect x="508.32" y="378.20" width="2.88" height="2.88" fill="#00aaff"/><rect x="496.80" y="375.32" width="2.88" height="2.88" fill="#00e3ff"/><rect x="505.44" y="372.44" width="2.88" height="2.88" fill="#00aaff"/><rect x="496.80" y="372.44" width="2.88" height="2.88" fill="#00e3ff"/><rect x="493.92" y="372.44" width="2.88" height="2.88" fill="#00e3ff"/><rect x="502.56" y="392.60" width="2.88" height="2.88" fill="#00e3ff"/><rect x="502.56" y="378.20" width="2.88" height="2.88" fill="#0071ff"/><rect x="502.56" y="369.56" width="2.88" height="2.88" fill="#0039ff"/><rect x="505.44" y="375.32" width="2.88" height="2.88" fill="#0071ff"/><rect x="499.68" y="369.56" width="2.88" height="2.88" fill="#00aaff"/><rect x="505.44" y="386.84" width="2.88" height="2.88" fill="#00e3ff"/><rect x="502.56" y="372.44" width="2.88" height="2.88" fill="#0039ff"/><rect x="508.32" y="381.08" width="2.88" height="2.88" fill="#00aaff"/><rect x="511.20" y="372.44" width="2.88" height="2.88" fill="#0a25d6"/><rect x="508.32" y="369.56" width="2.88" height="2.88" fill="#0000ff"/><rect x="514.08" y="372.44" width="2.88" height="2.88" fill="#0000ff"/><rect x="508.32" y="366.68" width="2.88" height="2.88" fill="#0071ff"/><rect x="505.44" y="369.56" width="2.88" height="2.88" fill="#0071ff"/><rect x="508.32" y="375.32" width="2.88" height="2.88" fill="#0071ff"/><rect x="511.20" y="378.20" width="2.88" height="2.88" fill="#00e3ff"/><rect x="508.32" y="383.96" width="2.88" height="2.88" fill="#00e3ff"/><rect x="502.56" y="366.68" width="2.88" height="2.88" fill="#00aaff"/><rect x="511.20" y="360.92" width="2.88" height="2.88" fill="#0039ff"/><rect x="511.20" y="381.08" width="2.88" height="2.88" fill="#00e3ff"/><rect x="511.20" y="369.56" width="2.88" height="2.88" fill="#0000ff"/><rect x="516.96" y="369.56" width="2.88" height="2.88" fill="#0000ff"/><rect x="511.20" y="375.32" width="2.88" height="2.88" fill="#00aaff"/><rect x="505.44" y="363.80" width="2.88" height="2.88" fill="#0071ff"/><rect x="519.84" y="378.20" width="2.88" height="2.88" fill="#00e3ff"/><rect x="505.44" y="352.28" width="2.88" height="2.88" fill="#00e3ff"/><rect x="516.96" y="363.80" width="2.88" height="2.88" fill="#144bad"/><rect x="514.08" y="360.92" width="2.88" height="2.88" fill="#0000ff"/><rect x="508.32" y="363.80" width="2.88" height="2.88" fill="#0071ff"/><rect x="522.72" y="383.96" width="2.88" height="2.88" fill="#00e3ff"/><rect x="519.84" y="366.68" width="2.88" height="2.88" fill="#0071ff"/><rect x="511.20" y="358.04" width="2.88" height="2.88" fill="#0071ff"/><rect x="514.08" y="366.68" width="2.88" height="2.88" fill="#0071ff"/><rect x="516.96" y="375.32" width="2.88" height="2.88" fill="#00e3ff"/><rect x="511.20" y="363.80" width="2.88" height="2.88" fill="#0000ff"/><rect x="505.44" y="360.92" width="2.88" height="2.88" fill="#00e3ff"/><rect x="516.96" y="372.44" width="2.88" height="2.88" fill="#0039ff"/><rect x="519.84" y="375.32" width="2.88" height="2.88" fill="#00aaff"/><rect x="511.20" y="366.68" width="2.88" height="2.88" fill="#0071ff"/><rect x="514.08" y="363.80" width="2.88" height="2.88" fill="#0000ff"/><rect x="516.96" y="366.68" width="2.88" height="2.88" fill="#0071ff"/><rect x="514.08" y="369.56" width="2.88" height="2.88" fill="#0000ff"/><rect x="519.84" y="360.92" width="2.88" height="2.88" fill="#0000ff"/><rect x="519.84" y="372.44" width="2.88" height="2.88" fill="#00aaff"/><rect x="516.96" y="352.28" width="2.88" height="2.88" fill="#0000ff"/><rect x="514.08" y="358.04" width="2.88" height="2.88" fill="#0000ff"/><rect x="516.96" y="378.20" width="2.88" height="2.88" fill="#00e3ff"/><rect x="519.84" y="358.04" width="2.88" height="2.88" fill="#144bad"/><rect x="516.96" y="360.92" width="2.88" height="2.88" fill="#29965c"/><rect x="505.44" y="358.04" width="2.88" height="2.88" fill="#00e3ff"/><rect x="508.32" y="355.16" width="2.88" height="2.88" fill="#00e3ff"/><rect x="522.72" y="366.68" width="2.88" height="2.88" fill="#0000ff"/><rect x="525.60" y="366.68" width="2.88" height="2.88" fill="#0071ff"/><rect x="519.84" y="355.16" width="2.88" height="2.88" fill="#144bad"/><rect x="522.72" y="369.56" width="2.88" height="2.88" fill="#00e3ff"/><rect x="519.84" y="363.80" width="2.88" height="2.88" fill="#1f7085"/><rect x="519.84" y="369.56" width="2.88" height="2.88" fill="#00e3ff"/><rect x="522.72" y="358.04" width="2.88" height="2.88" fill="#144bad"/><rect x="525.60" y="358.04" width="2.88" height="2.88" fill="#33bb33"/><rect x="528.48" y="363.80" width="2.88" height="2.88" fill="#0000ff"/><rect x="531.36" y="366.68" width="2.88" height="2.88" fill="#00e3ff"/><rect x="525.60" y="352.28" width="2.88" height="2.88" fill="#33bb33"/><rect x="516.96" y="358.04" width="2.88" height="2.88" fill="#0071ff"/><rect x="522.72" y="360.92" width="2.88" height="2.88" fill="#0000ff"/><rect x="522.72" y="352.28" width="2.88" height="2.88" fill="#00aaff"/><rect x="528.48" y="358.04" width="2.88" height="2.88" fill="#144bad"/><rect x="516.96" y="349.40" width="2.88" height="2.88" fill="#00aaff"/><rect x="522.72" y="363.80" width="2.88" height="2.88" fill="#00aaff"/><rect x="519.84" y="352.28" width="2.88" height="2.88" fill="#0a25d6"/><rect x="525.60" y="349.40" width="2.88" height="2.88" fill="#0039ff"/><rect x="525.60" y="355.16" width="2.88" height="2.88" fill="#1f7085"/><rect x="531.36" y="355.16" width="2.88" height="2.88" fill="#29965c"/><rect x="531.36" y="352.28" width="2.88" height="2.88" fill="#1f7085"/><rect x="531.36" y="383.96" width="2.88" height="2.88" fill="#00e3ff"/><rect x="528.48" y="360.92" width="2.88" height="2.88" fill="#0a25d6"/><rect x="522.72" y="355.16" width="2.88" height="2.88" fill="#0071ff"/><rect x="534.24" y="363.80" width="2.88" height="2.88" fill="#00e3ff"/><rect x="531.36" y="349.40" width="2.88" height="2.88" fill="#1f7085"/><rect x="514.08" y="343.64" width="2.88" height="2.88" fill="#00e3ff"/><rect x="525.60" y="360.92" width="2.88" height="2.88" fill="#0039ff"/><rect x="528.48" y="366.68" width="2.88" height="2.88" fill="#00e3ff"/><rect x="516.96" y="340.76" width="2.88" height="2.88" fill="#00aaff"/><rect x="528.48" y="352.28" width="2.88" height="2.88" fill="#0a25d6"/><rect x="525.60" y="343.64" width="2.88" height="2.88" fill="#00e3ff"/><rect x="525.60" y="363.80" width="2.88" height="2.88" fill="#00e3ff"/><rect x="534.24" y="355.16" width="2.88" height="2.88" fill="#00aaff"/><rect x="525.60" y="346.52" width="2.88" height="2.88" fill="#00aaff"/><rect x="531.36" y="360.92" width="2.88" height="2.88" fill="#00e3ff"/><rect x="534.24" y="349.40" width="2.88" height="2.88" fill="#0000ff"/><rect x="531.36" y="346.52" width="2.88" height="2.88" fill="#4ed33d"/><rect x="528.48" y="349.40" width="2.88" height="2.88" fill="#00aaff"/><rect x="522.72" y="343.64" width="2.88" height="2.88" fill="#00aaff"/><rect x="528.48" y="337.88" width="2.88" height="2.88" fill="#0071ff"/><rect x="528.48" y="355.16" width="2.88" height="2.88" fill="#0071ff"/><rect x="528.48" y="346.52" width="2.88" height="2.88" fill="#0000ff"/><rect x="537.12" y="346.52" width="2.88" height="2.88" fill="#0a25d6"/><rect x="531.36" y="363.80" width="2.88" height="2.88" fill="#00aaff"/><rect x="537.12" y="352.28" width="2.88" height="2.88" fill="#0071ff"/><rect x="537.12" y="358.04" width="2.88" height="2.88" fill="#0071ff"/><rect x="525.60" y="369.56" width="2.88" height="2.88" fill="#00e3ff"/><rect x="528.48" y="340.76" width="2.88" height="2.88" fill="#00aaff"/><rect x="534.24" y="329.24" width="2.88" height="2.88" fill="#0071ff"/><rect x="531.36" y="332.12" width="2.88" height="2.88" fill="#00e3ff"/><rect x="534.24" y="340.76" width="2.88" height="2.88" fill="#1f7085"/><rect x="525.60" y="340.76" width="2.88" height="2.88" fill="#00e3ff"/><rect x="531.36" y="358.04" width="2.88" height="2.88" fill="#00aaff"/><rect x="534.24" y="352.28" width="2.88" height="2.88" fill="#0071ff"/><rect x="531.36" y="340.76" width="2.88" height="2.88" fill="#0a25d6"/><rect x="537.12" y="340.76" width="2.88" height="2.88" fill="#29965c"/><rect x="534.24" y="343.64" width="2.88" height="2.88" fill="#0071ff"/><rect x="528.48" y="343.64" width="2.88" height="2.88" fill="#0071ff"/><rect x="537.12" y="332.12" width="2.88" height="2.88" fill="#00e3ff"/><rect x="534.24" y="346.52" width="2.88" height="2.88" fill="#0039ff"/><rect x="537.12" y="349.40" width="2.88" height="2.88" fill="#0039ff"/><rect x="537.12" y="355.16" width="2.88" height="2.88" fill="#00aaff"/><rect x="540.00" y="346.52" width="2.88" height="2.88" fill="#144bad"/><rect x="525.60" y="337.88" width="2.88" height="2.88" fill="#00aaff"/><rect x="540.00" y="340.76" width="2.88" height="2.88" fill="#33bb33"/><rect x="540.00" y="343.64" width="2.88" height="2.88" fill="#1f7085"/><rect x="540.00" y="349.40" width="2.88" height="2.88" fill="#0000ff"/><rect x="537.12" y="343.64" width="2.88" height="2.88" fill="#144bad"/><rect x="540.00" y="355.16" width="2.88" height="2.88" fill="#00e3ff"/><rect x="540.00" y="352.28" width="2.88" height="2.88" fill="#0071ff"/><rect x="540.00" y="363.80" width="2.88" height="2.88" fill="#00e3ff"/><rect x="537.12" y="337.88" width="2.88" height="2.88" fill="#1f7085"/><rect x="545.76" y="329.24" width="2.88" height="2.88" fill="#29965c"/><rect x="542.88" y="352.28" width="2.88" height="2.88" fill="#0000ff"/><rect x="542.88" y="340.76" width="2.88" height="2.88" fill="#1f7085"/><rect x="531.36" y="337.88" width="2.88" height="2.88" fill="#00aaff"/><rect x="545.76" y="355.16" width="2.88" height="2.88" fill="#00e3ff"/><rect x="534.24" y="332.12" width="2.88" height="2.88" fill="#00aaff"/><rect x="534.24" y="337.88" width="2.88" height="2.88" fill="#0039ff"/><rect x="531.36" y="335.00" width="2.88" height="2.88" fill="#00aaff"/><rect x="534.24" y="335.00" width="2.88" height="2.88" fill="#0071ff"/><rect x="540.00" y="358.04" width="2.88" height="2.88" fill="#00e3ff"/><rect x="542.88" y="349.40" width="2.88" height="2.88" fill="#0039ff"/><rect x="537.12" y="326.36" width="2.88" height="2.88" fill="#00e3ff"/><rect x="542.88" y="337.88" width="2.88" height="2.88" fill="#4ed33d"/><rect x="545.76" y="311.96" width="2.88" height="2.88" fill="#00e3ff"/><rect x="542.88" y="346.52" width="2.88" height="2.88" fill="#1f7085"/><rect x="551.52" y="337.88" width="2.88" height="2.88" fill="#29965c"/><rect x="545.76" y="332.12" width="2.88" height="2.88" fill="#1f7085"/><rect x="542.88" y="343.64" width="2.88" height="2.88" fill="#00aaff"/><rect x="540.00" y="335.00" width="2.88" height="2.88" fill="#0000ff"/><rect x="545.76" y="352.28" width="2.88" height="2.88" fill="#00e3ff"/><rect x="542.88" y="332.12" width="2.88" height="2.88" fill="#0071ff"/><rect x="540.00" y="337.88" width="2.88" height="2.88" fill="#0071ff"/><rect x="542.88" y="335.00" width="2.88" height="2.88" fill="#69da48"/><rect x="545.76" y="337.88" width="2.88" height="2.88" fill="#33bb33"/><rect x="531.36" y="343.64" width="2.88" height="2.88" fill="#00aaff"/><rect x="542.88" y="329.24" width="2.88" height="2.88" fill="#0039ff"/><rect x="548.64" y="343.64" width="2.88" height="2.88" fill="#0000ff"/><rect x="548.64" y="329.24" width="2.88" height="2.88" fill="#0a25d6"/><rect x="545.76" y="335.00" width="2.88" height="2.88" fill="#29965c"/><rect x="545.76" y="340.76" width="2.88" height="2.88" fill="#00aaff"/><rect x="545.76" y="343.64" width="2.88" height="2.88" fill="#0000ff"/><rect x="551.52" y="352.28" width="2.88" height="2.88" fill="#00e3ff"/><rect x="548.64" y="332.12" width="2.88" height="2.88" fill="#144bad"/><rect x="537.12" y="335.00" width="2.88" height="2.88" fill="#00e3ff"/><rect x="542.88" y="326.36" width="2.88" height="2.88" fill="#0039ff"/><rect x="545.76" y="346.52" width="2.88" height="2.88" fill="#00aaff"/><rect x="540.00" y="332.12" width="2.88" height="2.88" fill="#00e3ff"/><rect x="551.52" y="335.00" width="2.88" height="2.88" fill="#144bad"/><rect x="551.52" y="340.76" width="2.88" height="2.88" fill="#0039ff"/><rect x="548.64" y="337.88" width="2.88" height="2.88" fill="#1f7085"/><rect x="545.76" y="323.48" width="2.88" height="2.88" fill="#0039ff"/><rect x="545.76" y="349.40" width="2.88" height="2.88" fill="#00aaff"/><rect x="568.80" y="346.52" width="2.88" height="2.88" fill="#00e3ff"/><rect x="560.16" y="355.16" width="2.88" height="2.88" fill="#00aaff"/><rect x="551.52" y="329.24" width="2.88" height="2.88" fill="#33bb33"/><rect x="554.40" y="346.52" width="2.88" height="2.88" fill="#00aaff"/><rect x="554.40" y="335.00" width="2.88" height="2.88" fill="#144bad"/><rect x="548.64" y="346.52" width="2.88" height="2.88" fill="#0071ff"/><rect x="554.40" y="320.60" width="2.88" height="2.88" fill="#1f7085"/><rect x="548.64" y="335.00" width="2.88" height="2.88" fill="#85e052"/><rect x="540.00" y="329.24" width="2.88" height="2.88" fill="#00aaff"/><rect x="560.16" y="337.88" width="2.88" height="2.88" fill="#00aaff"/><rect x="548.64" y="320.60" width="2.88" height="2.88" fill="#0000ff"/><rect x="540.00" y="317.72" width="2.88" height="2.88" fill="#00e3ff"/><rect x="519.84" y="332.12" width="2.88" height="2.88" fill="#00e3ff"/><rect x="534.24" y="375.32" width="2.88" height="2.88" fill="#00e3ff"/><rect x="542.88" y="323.48" width="2.88" height="2.88" fill="#0071ff"/><rect x="554.40" y="332.12" width="2.88" height="2.88" fill="#29965c"/><rect x="548.64" y="340.76" width="2.88" height="2.88" fill="#00e3ff"/><rect x="548.64" y="317.72" width="2.88" height="2.88" fill="#0071ff"/><rect x="551.52" y="326.36" width="2.88" height="2.88" fill="#29965c"/><rect x="557.28" y="369.56" width="2.88" height="2.88" fill="#00e3ff"/><rect x="519.84" y="314.84" width="2.88" height="2.88" fill="#00e3ff"/><rect x="548.64" y="323.48" width="2.88" height="2.88" fill="#144bad"/><rect x="551.52" y="343.64" width="2.88" height="2.88" fill="#00aaff"/><rect x="551.52" y="332.12" width="2.88" height="2.88" fill="#0000ff"/><rect x="563.04" y="320.60" width="2.88" height="2.88" fill="#99e65a"/><rect x="554.40" y="337.88" width="2.88" height="2.88" fill="#0a25d6"/><rect x="554.40" y="323.48" width="2.88" height="2.88" fill="#4ed33d"/><rect x="545.76" y="326.36" width="2.88" height="2.88" fill="#0071ff"/><rect x="548.64" y="326.36" width="2.88" height="2.88" fill="#0039ff"/><rect x="554.40" y="329.24" width="2.88" height="2.88" fill="#5cd642"/><rect x="557.28" y="349.40" width="2.88" height="2.88" fill="#00e3ff"/><rect x="554.40" y="326.36" width="2.88" height="2.88" fill="#85e052"/><rect x="551.52" y="317.72" width="2.88" height="2.88" fill="#0000ff"/><rect x="551.52" y="323.48" width="2.88" height="2.88" fill="#144bad"/><rect x="557.28" y="323.48" width="2.88" height="2.88" fill="#92e457"/><rect x="557.28" y="332.12" width="2.88" height="2.88" fill="#92e457"/><rect x="551.52" y="320.60" width="2.88" height="2.88" fill="#29965c"/><rect x="557.28" y="326.36" width="2.88" height="2.88" fill="#4ed33d"/><rect x="557.28" y="329.24" width="2.88" height="2.88" fill="#92e457"/><rect x="554.40" y="311.96" width="2.88" height="2.88" fill="#0039ff"/><rect x="560.16" y="332.12" width="2.88" height="2.88" fill="#144bad"/><rect x="557.28" y="335.00" width="2.88" height="2.88" fill="#0000ff"/><rect x="560.16" y="329.24" width="2.88" height="2.88" fill="#41cf38"/><rect x="565.92" y="337.88" width="2.88" height="2.88" fill="#00aaff"/><rect x="545.76" y="320.60" width="2.88" height="2.88" fill="#00e3ff"/><rect x="554.40" y="340.76" width="2.88" height="2.88" fill="#00aaff"/><rect x="548.64" y="303.32" width="2.88" height="2.88" fill="#00e3ff"/><rect x="554.40" y="314.84" width="2.88" height="2.88" fill="#0000ff"/><rect x="568.80" y="349.40" width="2.88" height="2.88" fill="#00e3ff"/><rect x="551.52" y="314.84" width="2.88" height="2.88" fill="#0039ff"/><rect x="560.16" y="317.72" width="2.88" height="2.88" fill="#29965c"/><rect x="560.16" y="326.36" width="2.88" height="2.88" fill="#5cd642"/><rect x="548.64" y="297.56" width="2.88" height="2.88" fill="#00e3ff"/><rect x="560.16" y="323.48" width="2.88" height="2.88" fill="#a9ea60"/><rect x="540.00" y="300.44" width="2.88" height="2.88" fill="#00e3ff"/><rect x="557.28" y="320.60" width="2.88" height="2.88" fill="#bbee66"/><rect x="554.40" y="317.72" width="2.88" height="2.88" fill="#0a25d6"/><rect x="563.04" y="332.12" width="2.88" height="2.88" fill="#0000ff"/><rect x="545.76" y="300.44" width="2.88" height="2.88" fill="#00e3ff"/><rect x="560.16" y="335.00" width="2.88" height="2.88" fill="#0071ff"/><rect x="563.04" y="317.72" width="2.88" height="2.88" fill="#5cd642"/><rect x="557.28" y="317.72" width="2.88" height="2.88" fill="#0039ff"/><rect x="551.52" y="311.96" width="2.88" height="2.88" fill="#00e3ff"/><rect x="560.16" y="309.08" width="2.88" height="2.88" fill="#00aaff"/><rect x="560.16" y="320.60" width="2.88" height="2.88" fill="#a0e75c"/><rect x="563.04" y="343.64" width="2.88" height="2.88" fill="#00e3ff"/><rect x="557.28" y="337.88" width="2.88" height="2.88" fill="#00aaff"/><rect x="560.16" y="314.84" width="2.88" height="2.88" fill="#9ae65a"/><rect x="545.76" y="294.68" width="2.88" height="2.88" fill="#00e3ff"/><rect x="563.04" y="311.96" width="2.88" height="2.88" fill="#5cd642"/><rect x="557.28" y="314.84" width="2.88" height="2.88" fill="#1f7085"/><rect x="557.28" y="343.64" width="2.88" height="2.88" fill="#00e3ff"/><rect x="545.76" y="317.72" width="2.88" height="2.88" fill="#00e3ff"/><rect x="568.80" y="326.36" width="2.88" height="2.88" fill="#29965c"/><rect x="563.04" y="340.76" width="2.88" height="2.88" fill="#00e3ff"/><rect x="568.80" y="332.12" width="2.88" height="2.88" fill="#00e3ff"/><rect x="551.52" y="309.08" width="2.88" height="2.88" fill="#00e3ff"/><rect x="560.16" y="297.56" width="2.88" height="2.88" fill="#00e3ff"/><rect x="565.92" y="352.28" width="2.88" height="2.88" fill="#00e3ff"/><rect x="565.92" y="320.60" width="2.88" height="2.88" fill="#ffff80"/><rect x="563.04" y="314.84" width="2.88" height="2.88" fill="#ffd96b"/><rect x="563.04" y="323.48" width="2.88" height="2.88" fill="#85e052"/><rect x="563.04" y="326.36" width="2.88" height="2.88" fill="#5cd642"/><rect x="565.92" y="323.48" width="2.88" height="2.88" fill="#a0e75c"/><rect x="542.88" y="309.08" width="2.88" height="2.88" fill="#00e3ff"/><rect x="563.04" y="309.08" width="2.88" height="2.88" fill="#5cd642"/><rect x="565.92" y="332.12" width="2.88" height="2.88" fill="#0071ff"/><rect x="563.04" y="337.88" width="2.88" height="2.88" fill="#00e3ff"/><rect x="563.04" y="329.24" width="2.88" height="2.88" fill="#0a25d6"/><rect x="557.28" y="309.08" width="2.88" height="2.88" fill="#00e3ff"/><rect x="560.16" y="340.76" width="2.88" height="2.88" fill="#00e3ff"/><rect x="565.92" y="326.36" width="2.88" height="2.88" fill="#29965c"/><rect x="565.92" y="335.00" width="2.88" height="2.88" fill="#00e3ff"/><rect x="563.04" y="335.00" width="2.88" height="2.88" fill="#00e3ff"/><rect x="560.16" y="311.96" width="2.88" height="2.88" fill="#0000ff"/><rect x="554.40" y="309.08" width="2.88" height="2.88" fill="#00e3ff"/><rect x="568.80" y="335.00" width="2.88" height="2.88" fill="#00aaff"/><rect x="568.80" y="317.72" width="2.88" height="2.88" fill="#c2f069"/><rect x="557.28" y="306.20" width="2.88" height="2.88" fill="#0071ff"/><rect x="565.92" y="329.24" width="2.88" height="2.88" fill="#29965c"/><rect x="568.80" y="320.60" width="2.88" height="2.88" fill="#bbee66"/><rect x="571.68" y="332.12" width="2.88" height="2.88" fill="#0071ff"/><rect x="568.80" y="314.84" width="2.88" height="2.88" fill="#ffe06f"/><rect x="568.80" y="309.08" width="2.88" height="2.88" fill="#ffdb6c"/><rect x="568.80" y="323.48" width="2.88" height="2.88" fill="#77dd4d"/><rect x="563.04" y="306.20" width="2.88" height="2.88" fill="#0071ff"/><rect x="571.68" y="323.48" width="2.88" height="2.88" fill="#33bb33"/><rect x="565.92" y="314.84" width="2.88" height="2.88" fill="#8ae254"/><rect x="568.80" y="311.96" width="2.88" height="2.88" fill="#fffc7f"/><rect x="577.44" y="340.76" width="2.88" height="2.88" fill="#00aaff"/><rect x="571.68" y="311.96" width="2.88" height="2.88" fill="#ff6029"/><rect x="565.92" y="311.96" width="2.88" height="2.88" fill="#f2fc7b"/><rect x="565.92" y="317.72" width="2.88" height="2.88" fill="#c6f16b"/><rect x="574.56" y="317.72" width="2.88" height="2.88" fill="#adeb61"/><rect x="565.92" y="306.20" width="2.88" height="2.88" fill="#1f7085"/><rect x="563.04" y="303.32" width="2.88" height="2.88" fill="#00aaff"/><rect x="571.68" y="326.36" width="2.88" height="2.88" fill="#144bad"/><rect x="571.68" y="314.84" width="2.88" height="2.88" fill="#ffb556"/><rect x="557.28" y="311.96" width="2.88" height="2.88" fill="#00aaff"/><rect x="574.56" y="323.48" width="2.88" height="2.88" fill="#0000ff"/><rect x="571.68" y="317.72" width="2.88" height="2.88" fill="#e1f875"/><rect x="580.32" y="303.32" width="2.88" height="2.88" fill="#ff431d"/><rect x="563.04" y="300.44" width="2.88" height="2.88" fill="#0071ff"/><rect x="568.80" y="303.32" width="2.88" height="2.88" fill="#144bad"/><rect x="571.68" y="320.60" width="2.88" height="2.88" fill="#5cd642"/><rect x="565.92" y="309.08" width="2.88" height="2.88" fill="#41cf38"/><rect x="577.44" y="323.48" width="2.88" height="2.88" fill="#0039ff"/><rect x="560.16" y="300.44" width="2.88" height="2.88" fill="#00aaff"/><rect x="554.40" y="306.20" width="2.88" height="2.88" fill="#00e3ff"/><rect x="568.80" y="300.44" width="2.88" height="2.88" fill="#29965c"/><rect x="574.56" y="306.20" width="2.88" height="2.88" fill="#ff8d40"/><rect x="574.56" y="320.60" width="2.88" height="2.88" fill="#0a25d6"/><rect x="586.08" y="326.36" width="2.88" height="2.88" fill="#00aaff"/><rect x="574.56" y="329.24" width="2.88" height="2.88" fill="#00e3ff"/><rect x="574.56" y="311.96" width="2.88" height="2.88" fill="#ff4a20"/><rect x="565.92" y="303.32" width="2.88" height="2.88" fill="#00aaff"/><rect x="574.56" y="309.08" width="2.88" height="2.88" fill="#ff6d2f"/><rect x="577.44" y="317.72" width="2.88" height="2.88" fill="#77dd4d"/><rect x="577.44" y="309.08" width="2.88" height="2.88" fill="#ff5123"/><rect x="580.32" y="314.84" width="2.88" height="2.88" fill="#85e052"/><rect x="571.68" y="303.32" width="2.88" height="2.88" fill="#bbee66"/><rect x="571.68" y="309.08" width="2.88" height="2.88" fill="#ff9c48"/><rect x="568.80" y="306.20" width="2.88" height="2.88" fill="#33bb33"/><rect x="571.68" y="283.16" width="2.88" height="2.88" fill="#00aaff"/><rect x="560.16" y="303.32" width="2.88" height="2.88" fill="#00e3ff"/><rect x="557.28" y="303.32" width="2.88" height="2.88" fill="#00e3ff"/><rect x="571.68" y="306.20" width="2.88" height="2.88" fill="#fffa7d"/><rect x="577.44" y="320.60" width="2.88" height="2.88" fill="#0039ff"/><rect x="574.56" y="326.36" width="2.88" height="2.88" fill="#0039ff"/><rect x="580.32" y="300.44" width="2.88" height="2.88" fill="#ff662c"/><rect x="577.44" y="314.84" width="2.88" height="2.88" fill="#8ce255"/><rect x="574.56" y="314.84" width="2.88" height="2.88" fill="#ff6e2f"/><rect x="574.56" y="303.32" width="2.88" height="2.88" fill="#ffc660"/><rect x="588.96" y="303.32" width="2.88" height="2.88" fill="#ffa54d"/><rect x="577.44" y="311.96" width="2.88" height="2.88" fill="#ff642b"/><rect x="568.80" y="343.64" width="2.88" height="2.88" fill="#00e3ff"/><rect x="577.44" y="300.44" width="2.88" height="2.88" fill="#ff5c27"/><rect x="571.68" y="335.00" width="2.88" height="2.88" fill="#00aaff"/><rect x="568.80" y="297.56" width="2.88" height="2.88" fill="#0000ff"/><rect x="580.32" y="317.72" width="2.88" height="2.88" fill="#144bad"/><rect x="571.68" y="329.24" width="2.88" height="2.88" fill="#00aaff"/><rect x="574.56" y="300.44" width="2.88" height="2.88" fill="#ffaf53"/><rect x="580.32" y="311.96" width="2.88" height="2.88" fill="#ffe572"/><rect x="565.92" y="300.44" width="2.88" height="2.88" fill="#0071ff"/><rect x="583.20" y="306.20" width="2.88" height="2.88" fill="#ff230f"/><rect x="577.44" y="306.20" width="2.88" height="2.88" fill="#ff622a"/><rect x="580.32" y="309.08" width="2.88" height="2.88" fill="#ff5b27"/><rect x="571.68" y="300.44" width="2.88" height="2.88" fill="#5cd642"/><rect x="563.04" y="283.16" width="2.88" height="2.88" fill="#00e3ff"/><rect x="580.32" y="306.20" width="2.88" height="2.88" fill="#ff2811"/><rect x="583.20" y="309.08" width="2.88" height="2.88" fill="#ff9242"/><rect x="583.20" y="286.04" width="2.88" height="2.88" fill="#29965c"/><rect x="577.44" y="303.32" width="2.88" height="2.88" fill="#ffd267"/><rect x="586.08" y="303.32" width="2.88" height="2.88" fill="#ff1409"/><rect x="574.56" y="297.56" width="2.88" height="2.88" fill="#69da48"/><rect x="591.84" y="297.56" width="2.88" height="2.88" fill="#ff3115"/><rect x="577.44" y="297.56" width="2.88" height="2.88" fill="#fffa7d"/><rect x="586.08" y="306.20" width="2.88" height="2.88" fill="#ffe370"/><rect x="583.20" y="311.96" width="2.88" height="2.88" fill="#a0e75c"/><rect x="594.72" y="326.36" width="2.88" height="2.88" fill="#00e3ff"/><rect x="574.56" y="283.16" width="2.88" height="2.88" fill="#00aaff"/><rect x="577.44" y="294.68" width="2.88" height="2.88" fill="#77dd4d"/><rect x="574.56" y="294.68" width="2.88" height="2.88" fill="#29965c"/><rect x="568.80" y="329.24" width="2.88" height="2.88" fill="#00e3ff"/><rect x="583.20" y="314.84" width="2.88" height="2.88" fill="#33bb33"/><rect x="577.44" y="329.24" width="2.88" height="2.88" fill="#00e3ff"/><rect x="580.32" y="326.36" width="2.88" height="2.88" fill="#00aaff"/><rect x="577.44" y="288.92" width="2.88" height="2.88" fill="#0039ff"/><rect x="586.08" y="297.56" width="2.88" height="2.88" fill="#ff0402"/><rect x="583.20" y="317.72" width="2.88" height="2.88" fill="#0000ff"/><rect x="583.20" y="320.60" width="2.88" height="2.88" fill="#00aaff"/><rect x="565.92" y="297.56" width="2.88" height="2.88" fill="#00e3ff"/><rect x="583.20" y="294.68" width="2.88" height="2.88" fill="#ff5223"/><rect x="568.80" y="288.92" width="2.88" height="2.88" fill="#0071ff"/><rect x="580.32" y="329.24" width="2.88" height="2.88" fill="#00e3ff"/><rect x="568.80" y="294.68" width="2.88" height="2.88" fill="#00aaff"/><rect x="580.32" y="297.56" width="2.88" height="2.88" fill="#ff6a2e"/><rect x="583.20" y="303.32" width="2.88" height="2.88" fill="#ff240f"/><rect x="583.20" y="280.28" width="2.88" height="2.88" fill="#0000ff"/><rect x="571.68" y="288.92" width="2.88" height="2.88" fill="#0071ff"/><rect x="583.20" y="300.44" width="2.88" height="2.88" fill="#ff1609"/><rect x="591.84" y="309.08" width="2.88" height="2.88" fill="#85e052"/><rect x="588.96" y="320.60" width="2.88" height="2.88" fill="#00aaff"/><rect x="571.68" y="291.80" width="2.88" height="2.88" fill="#00aaff"/><rect x="577.44" y="291.80" width="2.88" height="2.88" fill="#33bb33"/><rect x="580.32" y="291.80" width="2.88" height="2.88" fill="#92e457"/><rect x="586.08" y="323.48" width="2.88" height="2.88" fill="#00e3ff"/><rect x="588.96" y="314.84" width="2.88" height="2.88" fill="#0039ff"/><rect x="571.68" y="297.56" width="2.88" height="2.88" fill="#0039ff"/><rect x="571.68" y="294.68" width="2.88" height="2.88" fill="#144bad"/><rect x="580.32" y="294.68" width="2.88" height="2.88" fill="#ffec76"/><rect x="586.08" y="300.44" width="2.88" height="2.88" fill="#eb0002"/><rect x="586.08" y="311.96" width="2.88" height="2.88" fill="#1f7085"/><rect x="588.96" y="309.08" width="2.88" height="2.88" fill="#5cd642"/><rect x="588.96" y="326.36" width="2.88" height="2.88" fill="#00e3ff"/><rect x="580.32" y="286.04" width="2.88" height="2.88" fill="#0000ff"/><rect x="594.72" y="297.56" width="2.88" height="2.88" fill="#ff9c48"/><rect x="586.08" y="309.08" width="2.88" height="2.88" fill="#77dd4d"/><rect x="586.08" y="314.84" width="2.88" height="2.88" fill="#144bad"/><rect x="583.20" y="297.56" width="2.88" height="2.88" fill="#ff1208"/><rect x="588.96" y="300.44" width="2.88" height="2.88" fill="#ff5c27"/><rect x="577.44" y="280.28" width="2.88" height="2.88" fill="#00e3ff"/><rect x="577.44" y="286.04" width="2.88" height="2.88" fill="#0071ff"/><rect x="597.60" y="297.56" width="2.88" height="2.88" fill="#ffc961"/><rect x="580.32" y="288.92" width="2.88" height="2.88" fill="#33bb33"/><rect x="588.96" y="294.68" width="2.88" height="2.88" fill="#ec0001"/><rect x="586.08" y="294.68" width="2.88" height="2.88" fill="#df0007"/><rect x="588.96" y="286.04" width="2.88" height="2.88" fill="#ff5f29"/><rect x="580.32" y="320.60" width="2.88" height="2.88" fill="#00e3ff"/><rect x="588.96" y="329.24" width="2.88" height="2.88" fill="#00e3ff"/><rect x="588.96" y="323.48" width="2.88" height="2.88" fill="#00e3ff"/><rect x="591.84" y="291.80" width="2.88" height="2.88" fill="#d1000c"/><rect x="588.96" y="277.40" width="2.88" height="2.88" fill="#92e457"/><rect x="583.20" y="288.92" width="2.88" height="2.88" fill="#bbee66"/><rect x="588.96" y="306.20" width="2.88" height="2.88" fill="#ffef77"/><rect x="588.96" y="317.72" width="2.88" height="2.88" fill="#00e3ff"/><rect x="594.72" y="306.20" width="2.88" height="2.88" fill="#4ed33d"/><rect x="583.20" y="283.16" width="2.88" height="2.88" fill="#33bb33"/><rect x="591.84" y="280.28" width="2.88" height="2.88" fill="#ff6c2e"/><rect x="583.20" y="291.80" width="2.88" height="2.88" fill="#ffc25d"/><rect x="603.36" y="309.08" width="2.88" height="2.88" fill="#00aaff"/><rect x="583.20" y="271.64" width="2.88" height="2.88" fill="#00aaff"/><rect x="594.72" y="300.44" width="2.88" height="2.88" fill="#fff67b"/><rect x="594.72" y="323.48" width="2.88" height="2.88" fill="#00e3ff"/><rect x="565.92" y="288.92" width="2.88" height="2.88" fill="#00e3ff"/><rect x="588.96" y="291.80" width="2.88" height="2.88" fill="#ed0001"/><rect x="586.08" y="288.92" width="2.88" height="2.88" fill="#fafe7e"/><rect x="586.08" y="286.04" width="2.88" height="2.88" fill="#ff662c"/><rect x="588.96" y="297.56" width="2.88" height="2.88" fill="#e40005"/><rect x="597.60" y="309.08" width="2.88" height="2.88" fill="#0071ff"/><rect x="591.84" y="314.84" width="2.88" height="2.88" fill="#0071ff"/><rect x="565.92" y="294.68" width="2.88" height="2.88" fill="#00aaff"/><rect x="586.08" y="317.72" width="2.88" height="2.88" fill="#0071ff"/><rect x="591.84" y="300.44" width="2.88" height="2.88" fill="#ff662c"/><rect x="594.72" y="311.96" width="2.88" height="2.88" fill="#0071ff"/><rect x="586.08" y="291.80" width="2.88" height="2.88" fill="#ee0001"/><rect x="591.84" y="306.20" width="2.88" height="2.88" fill="#adeb61"/><rect x="577.44" y="283.16" width="2.88" height="2.88" fill="#00e3ff"/><rect x="591.84" y="283.16" width="2.88" height="2.88" fill="#ff6029"/><rect x="588.96" y="283.16" width="2.88" height="2.88" fill="#ff632b"/><rect x="588.96" y="288.92" width="2.88" height="2.88" fill="#ff3a19"/><rect x="603.36" y="294.68" width="2.88" height="2.88" fill="#4ed33d"/><rect x="591.84" y="303.32" width="2.88" height="2.88" fill="#fffc7e"/><rect x="591.84" y="271.64" width="2.88" height="2.88" fill="#0a25d6"/><rect x="591.84" y="311.96" width="2.88" height="2.88" fill="#00aaff"/><rect x="594.72" y="294.68" width="2.88" height="2.88" fill="#ff3015"/><rect x="574.56" y="291.80" width="2.88" height="2.88" fill="#00e3ff"/><rect x="600.48" y="306.20" width="2.88" height="2.88" fill="#00aaff"/><rect x="580.32" y="280.28" width="2.88" height="2.88" fill="#00aaff"/><rect x="591.84" y="294.68" width="2.88" height="2.88" fill="#ff1107"/><rect x="577.44" y="326.36" width="2.88" height="2.88" fill="#00e3ff"/><rect x="597.60" y="286.04" width="2.88" height="2.88" fill="#e30005"/><rect x="580.32" y="283.16" width="2.88" height="2.88" fill="#00e3ff"/><rect x="597.60" y="320.60" width="2.88" height="2.88" fill="#00e3ff"/><rect x="597.60" y="294.68" width="2.88" height="2.88" fill="#ff9745"/><rect x="591.84" y="268.76" width="2.88" height="2.88" fill="#33bb33"/><rect x="594.72" y="303.32" width="2.88" height="2.88" fill="#5cd642"/><rect x="597.60" y="300.44" width="2.88" height="2.88" fill="#a0e75c"/><rect x="591.84" y="288.92" width="2.88" height="2.88" fill="#e80003"/><rect x="591.84" y="286.04" width="2.88" height="2.88" fill="#e60004"/><rect x="609.12" y="311.96" width="2.88" height="2.88" fill="#00e3ff"/><rect x="577.44" y="274.52" width="2.88" height="2.88" fill="#00e3ff"/><rect x="594.72" y="309.08" width="2.88" height="2.88" fill="#0071ff"/><rect x="586.08" y="283.16" width="2.88" height="2.88" fill="#5cd642"/><rect x="586.08" y="280.28" width="2.88" height="2.88" fill="#33bb33"/><rect x="588.96" y="311.96" width="2.88" height="2.88" fill="#0039ff"/><rect x="597.60" y="311.96" width="2.88" height="2.88" fill="#00e3ff"/><rect x="594.72" y="320.60" width="2.88" height="2.88" fill="#00e3ff"/><rect x="594.72" y="286.04" width="2.88" height="2.88" fill="#ff0502"/><rect x="594.72" y="291.80" width="2.88" height="2.88" fill="#ee0001"/><rect x="600.48" y="257.24" width="2.88" height="2.88" fill="#0039ff"/><rect x="597.60" y="271.64" width="2.88" height="2.88" fill="#ff6029"/><rect x="594.72" y="288.92" width="2.88" height="2.88" fill="#df0007"/><rect x="597.60" y="303.32" width="2.88" height="2.88" fill="#0071ff"/><rect x="606.24" y="309.08" width="2.88" height="2.88" fill="#00e3ff"/><rect x="597.60" y="288.92" width="2.88" height="2.88" fill="#ff1e0d"/><rect x="597.60" y="280.28" width="2.88" height="2.88" fill="#ed0001"/><rect x="600.48" y="303.32" width="2.88" height="2.88" fill="#144bad"/><rect x="580.32" y="263.00" width="2.88" height="2.88" fill="#00e3ff"/><rect x="597.60" y="317.72" width="2.88" height="2.88" fill="#00e3ff"/><rect x="600.48" y="286.04" width="2.88" height="2.88" fill="#cf000d"/><rect x="588.96" y="280.28" width="2.88" height="2.88" fill="#e8f977"/><rect x="565.92" y="265.88" width="2.88" height="2.88" fill="#00e3ff"/><rect x="597.60" y="268.76" width="2.88" height="2.88" fill="#ffad52"/><rect x="586.08" y="320.60" width="2.88" height="2.88" fill="#00e3ff"/><rect x="583.20" y="277.40" width="2.88" height="2.88" fill="#0071ff"/><rect x="600.48" y="288.92" width="2.88" height="2.88" fill="#ff0603"/><rect x="586.08" y="277.40" width="2.88" height="2.88" fill="#0000ff"/><rect x="594.72" y="280.28" width="2.88" height="2.88" fill="#ec0002"/><rect x="594.72" y="277.40" width="2.88" height="2.88" fill="#ff421c"/><rect x="597.60" y="291.80" width="2.88" height="2.88" fill="#ff441d"/><rect x="600.48" y="300.44" width="2.88" height="2.88" fill="#0000ff"/><rect x="577.44" y="277.40" width="2.88" height="2.88" fill="#00e3ff"/><rect x="609.12" y="286.04" width="2.88" height="2.88" fill="#29965c"/><rect x="597.60" y="274.52" width="2.88" height="2.88" fill="#e50004"/><rect x="594.72" y="283.16" width="2.88" height="2.88" fill="#ec0002"/><rect x="588.96" y="271.64" width="2.88" height="2.88" fill="#0039ff"/><rect x="597.60" y="283.16" width="2.88" height="2.88" fill="#df0007"/><rect x="606.24" y="303.32" width="2.88" height="2.88" fill="#0071ff"/><rect x="606.24" y="271.64" width="2.88" height="2.88" fill="#d5000b"/><rect x="606.24" y="283.16" width="2.88" height="2.88" fill="#ff873c"/><rect x="603.36" y="291.80" width="2.88" height="2.88" fill="#caf26c"/><rect x="600.48" y="294.68" width="2.88" height="2.88" fill="#fff97d"/><rect x="603.36" y="288.92" width="2.88" height="2.88" fill="#ffec75"/><rect x="600.48" y="291.80" width="2.88" height="2.88" fill="#ffb355"/><rect x="591.84" y="277.40" width="2.88" height="2.88" fill="#ff9f4a"/><rect x="600.48" y="280.28" width="2.88" height="2.88" fill="#bd0014"/><rect x="588.96" y="274.52" width="2.88" height="2.88" fill="#0000ff"/><rect x="568.80" y="291.80" width="2.88" height="2.88" fill="#00e3ff"/><rect x="594.72" y="271.64" width="2.88" height="2.88" fill="#adeb61"/><rect x="606.24" y="286.04" width="2.88" height="2.88" fill="#fffd7f"/><rect x="603.36" y="311.96" width="2.88" height="2.88" fill="#00e3ff"/><rect x="606.24" y="297.56" width="2.88" height="2.88" fill="#0000ff"/><rect x="600.48" y="283.16" width="2.88" height="2.88" fill="#d7000a"/><rect x="594.72" y="317.72" width="2.88" height="2.88" fill="#0039ff"/><rect x="600.48" y="309.08" width="2.88" height="2.88" fill="#00e3ff"/><rect x="612.00" y="280.28" width="2.88" height="2.88" fill="#ffd669"/><rect x="597.60" y="306.20" width="2.88" height="2.88" fill="#0071ff"/><rect x="597.60" y="277.40" width="2.88" height="2.88" fill="#ef0001"/><rect x="603.36" y="283.16" width="2.88" height="2.88" fill="#ee0001"/><rect x="583.20" y="274.52" width="2.88" height="2.88" fill="#00e3ff"/><rect x="591.84" y="274.52" width="2.88" height="2.88" fill="#5cd642"/><rect x="600.48" y="297.56" width="2.88" height="2.88" fill="#1f7085"/><rect x="609.12" y="300.44" width="2.88" height="2.88" fill="#00aaff"/><rect x="612.00" y="291.80" width="2.88" height="2.88" fill="#0000ff"/><rect x="609.12" y="288.92" width="2.88" height="2.88" fill="#41cf38"/><rect x="600.48" y="271.64" width="2.88" height="2.88" fill="#d3000c"/><rect x="600.48" y="277.40" width="2.88" height="2.88" fill="#da0009"/><rect x="606.24" y="288.92" width="2.88" height="2.88" fill="#33bb33"/><rect x="603.36" y="286.04" width="2.88" height="2.88" fill="#ffac51"/><rect x="603.36" y="277.40" width="2.88" height="2.88" fill="#cf000d"/><rect x="594.72" y="274.52" width="2.88" height="2.88" fill="#ff1e0d"/><rect x="588.96" y="268.76" width="2.88" height="2.88" fill="#0039ff"/><rect x="603.36" y="297.56" width="2.88" height="2.88" fill="#00e3ff"/><rect x="600.48" y="274.52" width="2.88" height="2.88" fill="#cc000e"/><rect x="612.00" y="288.92" width="2.88" height="2.88" fill="#0039ff"/><rect x="606.24" y="291.80" width="2.88" height="2.88" fill="#5cd642"/><rect x="609.12" y="309.08" width="2.88" height="2.88" fill="#00aaff"/><rect x="591.84" y="251.48" width="2.88" height="2.88" fill="#00e3ff"/><rect x="606.24" y="274.52" width="2.88" height="2.88" fill="#ee0001"/><rect x="606.24" y="280.28" width="2.88" height="2.88" fill="#ff0803"/><rect x="597.60" y="260.12" width="2.88" height="2.88" fill="#0071ff"/><rect x="594.72" y="268.76" width="2.88" height="2.88" fill="#33bb33"/><rect x="583.20" y="265.88" width="2.88" height="2.88" fill="#00e3ff"/><rect x="603.36" y="274.52" width="2.88" height="2.88" fill="#d90009"/><rect x="603.36" y="280.28" width="2.88" height="2.88" fill="#e00006"/><rect x="580.32" y="277.40" width="2.88" height="2.88" fill="#00e3ff"/><rect x="606.24" y="277.40" width="2.88" height="2.88" fill="#ff1107"/><rect x="586.08" y="340.76" width="2.88" height="2.88" fill="#00e3ff"/><rect x="586.08" y="274.52" width="2.88" height="2.88" fill="#0071ff"/><rect x="600.48" y="268.76" width="2.88" height="2.88" fill="#ff5625"/><rect x="612.00" y="294.68" width="2.88" height="2.88" fill="#00aaff"/><rect x="617.76" y="274.52" width="2.88" height="2.88" fill="#69da48"/><rect x="609.12" y="283.16" width="2.88" height="2.88" fill="#bbee66"/><rect x="603.36" y="306.20" width="2.88" height="2.88" fill="#00aaff"/><rect x="594.72" y="265.88" width="2.88" height="2.88" fill="#144bad"/><rect x="580.32" y="265.88" width="2.88" height="2.88" fill="#00e3ff"/><rect x="612.00" y="263.00" width="2.88" height="2.88" fill="#ea0002"/><rect x="612.00" y="303.32" width="2.88" height="2.88" fill="#00e3ff"/><rect x="603.36" y="271.64" width="2.88" height="2.88" fill="#e80003"/><rect x="612.00" y="286.04" width="2.88" height="2.88" fill="#0039ff"/><rect x="612.00" y="274.52" width="2.88" height="2.88" fill="#ff5524"/><rect x="612.00" y="306.20" width="2.88" height="2.88" fill="#00e3ff"/><rect x="617.76" y="268.76" width="2.88" height="2.88" fill="#e8f977"/><rect x="603.36" y="268.76" width="2.88" height="2.88" fill="#e60004"/><rect x="600.48" y="254.36" width="2.88" height="2.88" fill="#0071ff"/><rect x="614.88" y="271.64" width="2.88" height="2.88" fill="#ffd669"/><rect x="594.72" y="314.84" width="2.88" height="2.88" fill="#00e3ff"/><rect x="609.12" y="291.80" width="2.88" height="2.88" fill="#0071ff"/><rect x="609.12" y="274.52" width="2.88" height="2.88" fill="#f00000"/><rect x="591.84" y="263.00" width="2.88" height="2.88" fill="#00e3ff"/><rect x="609.12" y="268.76" width="2.88" height="2.88" fill="#b30018"/><rect x="606.24" y="260.12" width="2.88" height="2.88" fill="#ff7834"/><rect x="594.72" y="257.24" width="2.88" height="2.88" fill="#0071ff"/><rect x="603.36" y="300.44" width="2.88" height="2.88" fill="#0039ff"/><rect x="609.12" y="277.40" width="2.88" height="2.88" fill="#ff662c"/><rect x="603.36" y="251.48" width="2.88" height="2.88" fill="#0a25d6"/><rect x="591.84" y="248.60" width="2.88" height="2.88" fill="#00e3ff"/><rect x="612.00" y="268.76" width="2.88" height="2.88" fill="#ed0001"/><rect x="600.48" y="263.00" width="2.88" height="2.88" fill="#adeb61"/><rect x="600.48" y="265.88" width="2.88" height="2.88" fill="#c7f16b"/><rect x="612.00" y="320.60" width="2.88" height="2.88" fill="#00e3ff"/><rect x="603.36" y="265.88" width="2.88" height="2.88" fill="#ff2c13"/><rect x="606.24" y="268.76" width="2.88" height="2.88" fill="#eb0002"/><rect x="603.36" y="263.00" width="2.88" height="2.88" fill="#ff5f29"/><rect x="609.12" y="280.28" width="2.88" height="2.88" fill="#ff6c2e"/><rect x="612.00" y="283.16" width="2.88" height="2.88" fill="#92e457"/><rect x="614.88" y="294.68" width="2.88" height="2.88" fill="#00aaff"/><rect x="597.60" y="265.88" width="2.88" height="2.88" fill="#41cf38"/><rect x="617.76" y="280.28" width="2.88" height="2.88" fill="#0071ff"/><rect x="612.00" y="277.40" width="2.88" height="2.88" fill="#ffe974"/><rect x="609.12" y="271.64" width="2.88" height="2.88" fill="#ff1d0c"/><rect x="617.76" y="271.64" width="2.88" height="2.88" fill="#4ed33d"/><rect x="609.12" y="257.24" width="2.88" height="2.88" fill="#ff441d"/><rect x="623.52" y="274.52" width="2.88" height="2.88" fill="#0039ff"/><rect x="614.88" y="300.44" width="2.88" height="2.88" fill="#00e3ff"/><rect x="614.88" y="265.88" width="2.88" height="2.88" fill="#ff0301"/><rect x="623.52" y="271.64" width="2.88" height="2.88" fill="#0000ff"/><rect x="614.88" y="280.28" width="2.88" height="2.88" fill="#41cf38"/><rect x="617.76" y="254.36" width="2.88" height="2.88" fill="#ffc55f"/><rect x="612.00" y="271.64" width="2.88" height="2.88" fill="#ff170a"/><rect x="617.76" y="277.40" width="2.88" height="2.88" fill="#144bad"/><rect x="609.12" y="265.88" width="2.88" height="2.88" fill="#d2000c"/><rect x="606.24" y="265.88" width="2.88" height="2.88" fill="#e10006"/><rect x="614.88" y="286.04" width="2.88" height="2.88" fill="#0071ff"/><rect x="614.88" y="274.52" width="2.88" height="2.88" fill="#f0fb7a"/><rect x="606.24" y="263.00" width="2.88" height="2.88" fill="#ff1308"/><rect x="614.88" y="283.16" width="2.88" height="2.88" fill="#0000ff"/><rect x="597.60" y="257.24" width="2.88" height="2.88" fill="#0a25d6"/><rect x="623.52" y="268.76" width="2.88" height="2.88" fill="#0039ff"/><rect x="609.12" y="260.12" width="2.88" height="2.88" fill="#ff1e0d"/><rect x="614.88" y="277.40" width="2.88" height="2.88" fill="#92e457"/><rect x="606.24" y="300.44" width="2.88" height="2.88" fill="#00e3ff"/><rect x="597.60" y="263.00" width="2.88" height="2.88" fill="#29965c"/><rect x="620.64" y="297.56" width="2.88" height="2.88" fill="#00aaff"/><rect x="609.12" y="254.36" width="2.88" height="2.88" fill="#ffc55f"/><rect x="609.12" y="263.00" width="2.88" height="2.88" fill="#ff1509"/><rect x="588.96" y="242.84" width="2.88" height="2.88" fill="#00e3ff"/><rect x="620.64" y="268.76" width="2.88" height="2.88" fill="#4ed33d"/><rect x="629.28" y="280.28" width="2.88" height="2.88" fill="#0071ff"/><rect x="603.36" y="257.24" width="2.88" height="2.88" fill="#77dd4d"/><rect x="620.64" y="288.92" width="2.88" height="2.88" fill="#00e3ff"/><rect x="606.24" y="294.68" width="2.88" height="2.88" fill="#00e3ff"/><rect x="606.24" y="257.24" width="2.88" height="2.88" fill="#ffd86a"/><rect x="603.36" y="260.12" width="2.88" height="2.88" fill="#fff47a"/><rect x="612.00" y="257.24" width="2.88" height="2.88" fill="#e30005"/><rect x="614.88" y="251.48" width="2.88" height="2.88" fill="#ff9a47"/><rect x="612.00" y="297.56" width="2.88" height="2.88" fill="#00e3ff"/><rect x="594.72" y="254.36" width="2.88" height="2.88" fill="#00e3ff"/><rect x="606.24" y="306.20" width="2.88" height="2.88" fill="#00e3ff"/><rect x="612.00" y="265.88" width="2.88" height="2.88" fill="#e50004"/><rect x="614.88" y="288.92" width="2.88" height="2.88" fill="#00e3ff"/><rect x="606.24" y="245.72" width="2.88" height="2.88" fill="#0000ff"/><rect x="617.76" y="251.48" width="2.88" height="2.88" fill="#ffbe5b"/><rect x="623.52" y="277.40" width="2.88" height="2.88" fill="#00aaff"/><rect x="614.88" y="268.76" width="2.88" height="2.88" fill="#ff9142"/><rect x="600.48" y="260.12" width="2.88" height="2.88" fill="#85e052"/><rect x="591.84" y="242.84" width="2.88" height="2.88" fill="#00e3ff"/><rect x="594.72" y="263.00" width="2.88" height="2.88" fill="#0039ff"/><rect x="597.60" y="248.60" width="2.88" height="2.88" fill="#00e3ff"/><rect x="586.08" y="265.88" width="2.88" height="2.88" fill="#00e3ff"/><rect x="614.88" y="245.72" width="2.88" height="2.88" fill="#33bb33"/><rect x="614.88" y="239.96" width="2.88" height="2.88" fill="#00aaff"/><rect x="626.40" y="274.52" width="2.88" height="2.88" fill="#00aaff"/><rect x="620.64" y="245.72" width="2.88" height="2.88" fill="#144bad"/><rect x="609.12" y="248.60" width="2.88" height="2.88" fill="#29965c"/><rect x="617.76" y="260.12" width="2.88" height="2.88" fill="#ffa04a"/><rect x="614.88" y="260.12" width="2.88" height="2.88" fill="#ff0a04"/><rect x="597.60" y="228.44" width="2.88" height="2.88" fill="#00e3ff"/><rect x="614.88" y="263.00" width="2.88" height="2.88" fill="#ff4f22"/><rect x="609.12" y="294.68" width="2.88" height="2.88" fill="#00aaff"/><rect x="620.64" y="265.88" width="2.88" height="2.88" fill="#b3ec63"/><rect x="603.36" y="254.36" width="2.88" height="2.88" fill="#41cf38"/><rect x="620.64" y="277.40" width="2.88" height="2.88" fill="#144bad"/><rect x="597.60" y="245.72" width="2.88" height="2.88" fill="#00e3ff"/><rect x="586.08" y="257.24" width="2.88" height="2.88" fill="#00e3ff"/><rect x="614.88" y="257.24" width="2.88" height="2.88" fill="#ff3416"/><rect x="612.00" y="248.60" width="2.88" height="2.88" fill="#77dd4d"/><rect x="612.00" y="260.12" width="2.88" height="2.88" fill="#ff3818"/><rect x="623.52" y="257.24" width="2.88" height="2.88" fill="#a4e85e"/><rect x="612.00" y="254.36" width="2.88" height="2.88" fill="#ff5524"/><rect x="620.64" y="263.00" width="2.88" height="2.88" fill="#cdf26d"/><rect x="606.24" y="251.48" width="2.88" height="2.88" fill="#41cf38"/><rect x="606.24" y="254.36" width="2.88" height="2.88" fill="#aeeb62"/><rect x="606.24" y="242.84" width="2.88" height="2.88" fill="#00aaff"/><rect x="600.48" y="245.72" width="2.88" height="2.88" fill="#00e3ff"/><rect x="623.52" y="286.04" width="2.88" height="2.88" fill="#00e3ff"/><rect x="617.76" y="265.88" width="2.88" height="2.88" fill="#ffcd64"/><rect x="609.12" y="251.48" width="2.88" height="2.88" fill="#adeb61"/><rect x="620.64" y="254.36" width="2.88" height="2.88" fill="#ffe16f"/><rect x="612.00" y="251.48" width="2.88" height="2.88" fill="#ffe873"/><rect x="623.52" y="283.16" width="2.88" height="2.88" fill="#00aaff"/><rect x="626.40" y="268.76" width="2.88" height="2.88" fill="#0000ff"/><rect x="612.00" y="237.08" width="2.88" height="2.88" fill="#00e3ff"/><rect x="609.12" y="297.56" width="2.88" height="2.88" fill="#00e3ff"/><rect x="614.88" y="254.36" width="2.88" height="2.88" fill="#ff8c3f"/><rect x="617.76" y="263.00" width="2.88" height="2.88" fill="#ff5022"/><rect x="603.36" y="248.60" width="2.88" height="2.88" fill="#00aaff"/><rect x="606.24" y="248.60" width="2.88" height="2.88" fill="#1f7085"/><rect x="620.64" y="251.48" width="2.88" height="2.88" fill="#fafe7e"/><rect x="632.16" y="260.12" width="2.88" height="2.88" fill="#00aaff"/><rect x="617.76" y="257.24" width="2.88" height="2.88" fill="#ff8e40"/><rect x="620.64" y="257.24" width="2.88" height="2.88" fill="#fff97c"/><rect x="617.76" y="291.80" width="2.88" height="2.88" fill="#00e3ff"/><rect x="620.64" y="286.04" width="2.88" height="2.88" fill="#00e3ff"/><rect x="591.84" y="257.24" width="2.88" height="2.88" fill="#00e3ff"/><rect x="620.64" y="274.52" width="2.88" height="2.88" fill="#0a25d6"/><rect x="617.76" y="283.16" width="2.88" height="2.88" fill="#0071ff"/><rect x="600.48" y="239.96" width="2.88" height="2.88" fill="#00e3ff"/><rect x="597.60" y="237.08" width="2.88" height="2.88" fill="#00e3ff"/><rect x="629.28" y="277.40" width="2.88" height="2.88" fill="#00e3ff"/><rect x="617.76" y="228.44" width="2.88" height="2.88" fill="#00aaff"/><rect x="632.16" y="280.28" width="2.88" height="2.88" fill="#00e3ff"/><rect x="620.64" y="280.28" width="2.88" height="2.88" fill="#00aaff"/><rect x="609.12" y="234.20" width="2.88" height="2.88" fill="#00e3ff"/><rect x="617.76" y="237.08" width="2.88" height="2.88" fill="#00aaff"/><rect x="635.04" y="268.76" width="2.88" height="2.88" fill="#00e3ff"/><rect x="612.00" y="245.72" width="2.88" height="2.88" fill="#1f7085"/><rect x="597.60" y="254.36" width="2.88" height="2.88" fill="#0071ff"/><rect x="620.64" y="271.64" width="2.88" height="2.88" fill="#0071ff"/><rect x="626.40" y="254.36" width="2.88" height="2.88" fill="#0000ff"/><rect x="620.64" y="260.12" width="2.88" height="2.88" fill="#ffa54d"/><rect x="617.76" y="242.84" width="2.88" height="2.88" fill="#1f7085"/><rect x="600.48" y="248.60" width="2.88" height="2.88" fill="#0071ff"/><rect x="623.52" y="260.12" width="2.88" height="2.88" fill="#85e052"/><rect x="623.52" y="265.88" width="2.88" height="2.88" fill="#144bad"/><rect x="597.60" y="251.48" width="2.88" height="2.88" fill="#00aaff"/><rect x="623.52" y="245.72" width="2.88" height="2.88" fill="#0039ff"/><rect x="629.28" y="263.00" width="2.88" height="2.88" fill="#0071ff"/><rect x="617.76" y="248.60" width="2.88" height="2.88" fill="#ffdb6b"/><rect x="635.04" y="283.16" width="2.88" height="2.88" fill="#00e3ff"/><rect x="614.88" y="248.60" width="2.88" height="2.88" fill="#83e051"/><rect x="623.52" y="263.00" width="2.88" height="2.88" fill="#5cd642"/><rect x="620.64" y="248.60" width="2.88" height="2.88" fill="#77dd4d"/><rect x="635.04" y="257.24" width="2.88" height="2.88" fill="#00e3ff"/><rect x="632.16" y="265.88" width="2.88" height="2.88" fill="#00e3ff"/><rect x="626.40" y="248.60" width="2.88" height="2.88" fill="#0071ff"/><rect x="614.88" y="234.20" width="2.88" height="2.88" fill="#00aaff"/><rect x="623.52" y="288.92" width="2.88" height="2.88" fill="#00e3ff"/><rect x="617.76" y="245.72" width="2.88" height="2.88" fill="#0a25d6"/><rect x="623.52" y="239.96" width="2.88" height="2.88" fill="#00e3ff"/><rect x="626.40" y="257.24" width="2.88" height="2.88" fill="#0a25d6"/><rect x="626.40" y="251.48" width="2.88" height="2.88" fill="#0039ff"/><rect x="623.52" y="280.28" width="2.88" height="2.88" fill="#00e3ff"/><rect x="614.88" y="242.84" width="2.88" height="2.88" fill="#00aaff"/><rect x="629.28" y="239.96" width="2.88" height="2.88" fill="#00e3ff"/><rect x="626.40" y="271.64" width="2.88" height="2.88" fill="#00aaff"/><rect x="609.12" y="239.96" width="2.88" height="2.88" fill="#00e3ff"/><rect x="629.28" y="257.24" width="2.88" height="2.88" fill="#00e3ff"/><rect x="620.64" y="239.96" width="2.88" height="2.88" fill="#0071ff"/><rect x="609.12" y="242.84" width="2.88" height="2.88" fill="#00aaff"/><rect x="629.28" y="237.08" width="2.88" height="2.88" fill="#00e3ff"/><rect x="620.64" y="242.84" width="2.88" height="2.88" fill="#0000ff"/><rect x="623.52" y="251.48" width="2.88" height="2.88" fill="#144bad"/><rect x="637.92" y="254.36" width="2.88" height="2.88" fill="#00e3ff"/><rect x="640.80" y="268.76" width="2.88" height="2.88" fill="#00e3ff"/><rect x="626.40" y="260.12" width="2.88" height="2.88" fill="#0039ff"/><rect x="620.64" y="228.44" width="2.88" height="2.88" fill="#00e3ff"/><rect x="626.40" y="265.88" width="2.88" height="2.88" fill="#0071ff"/><rect x="617.76" y="239.96" width="2.88" height="2.88" fill="#00aaff"/><rect x="609.12" y="231.32" width="2.88" height="2.88" fill="#00e3ff"/><rect x="632.16" y="263.00" width="2.88" height="2.88" fill="#00e3ff"/><rect x="609.12" y="237.08" width="2.88" height="2.88" fill="#00e3ff"/><rect x="629.28" y="254.36" width="2.88" height="2.88" fill="#00aaff"/><rect x="626.40" y="277.40" width="2.88" height="2.88" fill="#00e3ff"/><rect x="623.52" y="254.36" width="2.88" height="2.88" fill="#33bb33"/><rect x="629.28" y="251.48" width="2.88" height="2.88" fill="#00e3ff"/><rect x="623.52" y="248.60" width="2.88" height="2.88" fill="#0000ff"/><rect x="629.28" y="248.60" width="2.88" height="2.88" fill="#00e3ff"/><rect x="617.76" y="234.20" width="2.88" height="2.88" fill="#00e3ff"/><rect x="626.40" y="234.20" width="2.88" height="2.88" fill="#00e3ff"/><rect x="640.80" y="263.00" width="2.88" height="2.88" fill="#00e3ff"/><rect x="612.00" y="242.84" width="2.88" height="2.88" fill="#00e3ff"/><rect x="606.24" y="239.96" width="2.88" height="2.88" fill="#00e3ff"/><rect x="603.36" y="237.08" width="2.88" height="2.88" fill="#00e3ff"/><rect x="629.28" y="260.12" width="2.88" height="2.88" fill="#00aaff"/><rect x="635.04" y="260.12" width="2.88" height="2.88" fill="#00e3ff"/><rect x="629.28" y="265.88" width="2.88" height="2.88" fill="#00e3ff"/><rect x="632.16" y="248.60" width="2.88" height="2.88" fill="#00e3ff"/></g></g><text transform="translate(146.6,170.80) scale(1.0,1.07)" font-size="29.7">BIAS = -0.591</text><text transform="translate(146.6,216.17) scale(1.012,1.07)" font-size="29.7">RMSE = 0.799</text><text transform="translate(146.6,261.54) scale(0.973,1.07)" font-size="29.7">r = 0.991</text><text transform="translate(146.6,306.91) scale(1.017,1.07)" font-size="29.7">Y = -0.645 + X * 1.002</text><text transform="translate(146.6,352.28) scale(1.013,1.07)" font-size="29.7">NUM = 21462</text><path d="M180.0,119V767M252.0,119V767M324.0,119V767M396.0,119V767M468.0,119V767M540.0,119V767M612.0,119V767M684.0,119V767" stroke="#858585" stroke-width="1.7" stroke-dasharray="3,3" stroke-dashoffset="3" fill="none"/><path d="M108,695.0H756M108,623.0H756M108,551.0H756M108,479.0H756M108,407.0H756M108,335.0H756M108,263.0H756M108,191.0H756" stroke="#858585" stroke-width="1.7" stroke-dasharray="3,3" stroke-dashoffset="0.9" fill="none"/><line x1="108.0" y1="767.0" x2="756.0" y2="119.0" stroke="#666" stroke-width="2.2" stroke-dasharray="3.7,2.25" stroke-dashoffset="2.7"/><line x1="117.41317365269461" y1="767.0" x2="756.0" y2="127.13600000000008" stroke="#0000ff" stroke-width="2.2" stroke-dasharray="6.3,5.77" stroke-dashoffset="0.9"/><path d="M122.5,119v7M122.5,767v-7M108,752.5h7M756,752.5h-7M136.5,119v7M136.5,767v-7M108,738.5h7M756,738.5h-7M151.5,119v7M151.5,767v-7M108,723.5h7M756,723.5h-7M165.5,119v7M165.5,767v-7M108,709.5h7M756,709.5h-7M194.5,119v7M194.5,767v-7M108,680.5h7M756,680.5h-7M208.5,119v7M208.5,767v-7M108,666.5h7M756,666.5h-7M223.5,119v7M223.5,767v-7M108,651.5h7M756,651.5h-7M237.5,119v7M237.5,767v-7M108,637.5h7M756,637.5h-7M266.5,119v7M266.5,767v-7M108,608.5h7M756,608.5h-7M280.5,119v7M280.5,767v-7M108,594.5h7M756,594.5h-7M295.5,119v7M295.5,767v-7M108,579.5h7M756,579.5h-7M309.5,119v7M309.5,767v-7M108,565.5h7M756,565.5h-7M338.5,119v7M338.5,767v-7M108,536.5h7M756,536.5h-7M352.5,119v7M352.5,767v-7M108,522.5h7M756,522.5h-7M367.5,119v7M367.5,767v-7M108,507.5h7M756,507.5h-7M381.5,119v7M381.5,767v-7M108,493.5h7M756,493.5h-7M410.5,119v7M410.5,767v-7M108,464.5h7M756,464.5h-7M424.5,119v7M424.5,767v-7M108,450.5h7M756,450.5h-7M439.5,119v7M439.5,767v-7M108,435.5h7M756,435.5h-7M453.5,119v7M453.5,767v-7M108,421.5h7M756,421.5h-7M482.5,119v7M482.5,767v-7M108,392.5h7M756,392.5h-7M496.5,119v7M496.5,767v-7M108,378.5h7M756,378.5h-7M511.5,119v7M511.5,767v-7M108,363.5h7M756,363.5h-7M525.5,119v7M525.5,767v-7M108,349.5h7M756,349.5h-7M554.5,119v7M554.5,767v-7M108,320.5h7M756,320.5h-7M568.5,119v7M568.5,767v-7M108,306.5h7M756,306.5h-7M583.5,119v7M583.5,767v-7M108,291.5h7M756,291.5h-7M597.5,119v7M597.5,767v-7M108,277.5h7M756,277.5h-7M626.5,119v7M626.5,767v-7M108,248.5h7M756,248.5h-7M640.5,119v7M640.5,767v-7M108,234.5h7M756,234.5h-7M655.5,119v7M655.5,767v-7M108,219.5h7M756,219.5h-7M669.5,119v7M669.5,767v-7M108,205.5h7M756,205.5h-7M698.5,119v7M698.5,767v-7M108,176.5h7M756,176.5h-7M712.5,119v7M712.5,767v-7M108,162.5h7M756,162.5h-7M727.5,119v7M727.5,767v-7M108,147.5h7M756,147.5h-7M741.5,119v7M741.5,767v-7M108,133.5h7M756,133.5h-7" stroke="#000" stroke-width="1.2" fill="none"/><path d="M180.0,119v14M180.0,767v-14M108,695.0h14M756,695.0h-14M252.0,119v14M252.0,767v-14M108,623.0h14M756,623.0h-14M324.0,119v14M324.0,767v-14M108,551.0h14M756,551.0h-14M396.0,119v14M396.0,767v-14M108,479.0h14M756,479.0h-14M468.0,119v14M468.0,767v-14M108,407.0h14M756,407.0h-14M540.0,119v14M540.0,767v-14M108,335.0h14M756,335.0h-14M612.0,119v14M612.0,767v-14M108,263.0h14M756,263.0h-14M684.0,119v14M684.0,767v-14M108,191.0h14M756,191.0h-14" stroke="#444" stroke-width="1.8" fill="none"/><rect x="108" y="119" width="648" height="648" fill="none" stroke="#000" stroke-width="2"/><g font-size="24" stroke="#000" stroke-width="0.7"><text transform="translate(107.7,796.7) scale(1,1.03)" text-anchor="middle">–5</text><text transform="translate(96.0,775.7) scale(1,1.03)" text-anchor="end">–5</text><text transform="translate(179.7,796.7) scale(1,1.03)" text-anchor="middle">0</text><text transform="translate(96.0,703.7) scale(1,1.03)" text-anchor="end">0</text><text transform="translate(251.7,796.7) scale(1,1.03)" text-anchor="middle">5</text><text transform="translate(96.0,631.7) scale(1,1.03)" text-anchor="end">5</text><text transform="translate(323.7,796.7) scale(1,1.03)" text-anchor="middle">10</text><text transform="translate(96.0,559.7) scale(1,1.03)" text-anchor="end">10</text><text transform="translate(395.7,796.7) scale(1,1.03)" text-anchor="middle">15</text><text transform="translate(96.0,487.7) scale(1,1.03)" text-anchor="end">15</text><text transform="translate(467.7,796.7) scale(1,1.03)" text-anchor="middle">20</text><text transform="translate(96.0,415.7) scale(1,1.03)" text-anchor="end">20</text><text transform="translate(539.7,796.7) scale(1,1.03)" text-anchor="middle">25</text><text transform="translate(96.0,343.7) scale(1,1.03)" text-anchor="end">25</text><text transform="translate(611.7,796.7) scale(1,1.03)" text-anchor="middle">30</text><text transform="translate(96.0,271.7) scale(1,1.03)" text-anchor="end">30</text><text transform="translate(683.7,796.7) scale(1,1.03)" text-anchor="middle">35</text><text transform="translate(96.0,199.7) scale(1,1.03)" text-anchor="end">35</text><text transform="translate(755.7,796.7) scale(1,1.03)" text-anchor="middle">40</text><text transform="translate(96.0,127.7) scale(1,1.03)" text-anchor="end">40</text></g><text transform="translate(328.90,61.00) scale(1,1.08)" font-size="38.93" stroke="#000" stroke-width="0.5">L2  2025/10</text><text transform="translate(22.90,105.30) scale(1,1.01)" font-size="30.05" stroke="#000" stroke-width="0.9">SST : H9/AHI vs iQuam_v2.1 Buoy  (80˚E-160˚W, 60˚N-60˚S)</text><text transform="translate(290.20,829.60) scale(1,1.02)" font-size="30.00" stroke="#000" stroke-width="0.8">iQuam_v2.1 SST [˚C]</text><text transform="translate(57.5,552.9) rotate(-90) scale(1,1.02)" font-size="30.17" stroke="#000" stroke-width="0.8">H9/AHI SST [˚C]</text><defs><linearGradient id="g0"><stop offset="0" stop-color="#00ffff"/><stop offset="1" stop-color="#0008ff"/></linearGradient><linearGradient id="g1"><stop offset="0" stop-color="#0000ff"/><stop offset="1" stop-color="#33bb33"/></linearGradient><linearGradient id="g2"><stop offset="0" stop-color="#3cc83c"/><stop offset="1" stop-color="#f8fa80"/></linearGradient><linearGradient id="g3"><stop offset="0" stop-color="#fff880"/><stop offset="1" stop-color="#ff7a3a"/></linearGradient><linearGradient id="g4"><stop offset="0" stop-color="#ff6a30"/><stop offset="1" stop-color="#ff0000"/></linearGradient><linearGradient id="g5"><stop offset="0" stop-color="#f00000"/><stop offset="1" stop-color="#a00020"/></linearGradient></defs><rect x="108" y="875" width="108" height="22" fill="url(#g0)"/><rect x="216" y="875" width="108" height="22" fill="url(#g1)"/><rect x="324" y="875" width="108" height="22" fill="url(#g2)"/><rect x="432" y="875" width="108" height="22" fill="url(#g3)"/><rect x="540" y="875" width="108" height="22" fill="url(#g4)"/><rect x="648" y="875" width="108" height="22" fill="url(#g5)"/><path d="M108,881V897M216,881V897M324,881V897M432,881V897M540,881V897M648,881V897M756,881V897" stroke="#48424c" stroke-width="1.7"/><path d="M108,876V881M216,876V881M324,876V881M432,876V881M540,876V881M648,876V881M756,876V881" stroke="#9a969a" stroke-width="1.7"/><path d="M107,875H757M107,897H757" stroke="#000" stroke-width="1.8"/><g font-size="22" stroke="#000" stroke-width="0.7"><text transform="translate(108,926.2) scale(1,1.10)" text-anchor="middle">0.001</text><text transform="translate(216,926.2) scale(1,1.10)" text-anchor="middle">0.010</text><text transform="translate(324,926.2) scale(1,1.10)" text-anchor="middle">0.020</text><text transform="translate(432,926.2) scale(1,1.10)" text-anchor="middle">0.050</text><text transform="translate(540,926.2) scale(1,1.10)" text-anchor="middle">0.100</text><text transform="translate(648,926.2) scale(1,1.10)" text-anchor="middle">0.200</text><text transform="translate(756,926.2) scale(1,1.10)" text-anchor="middle">0.500</text></g><text transform="translate(334.90,973.60) scale(1,1.03)" font-size="30.05" stroke="#000" stroke-width="0.8">Frequency [%]</text>
</svg></body></html>
